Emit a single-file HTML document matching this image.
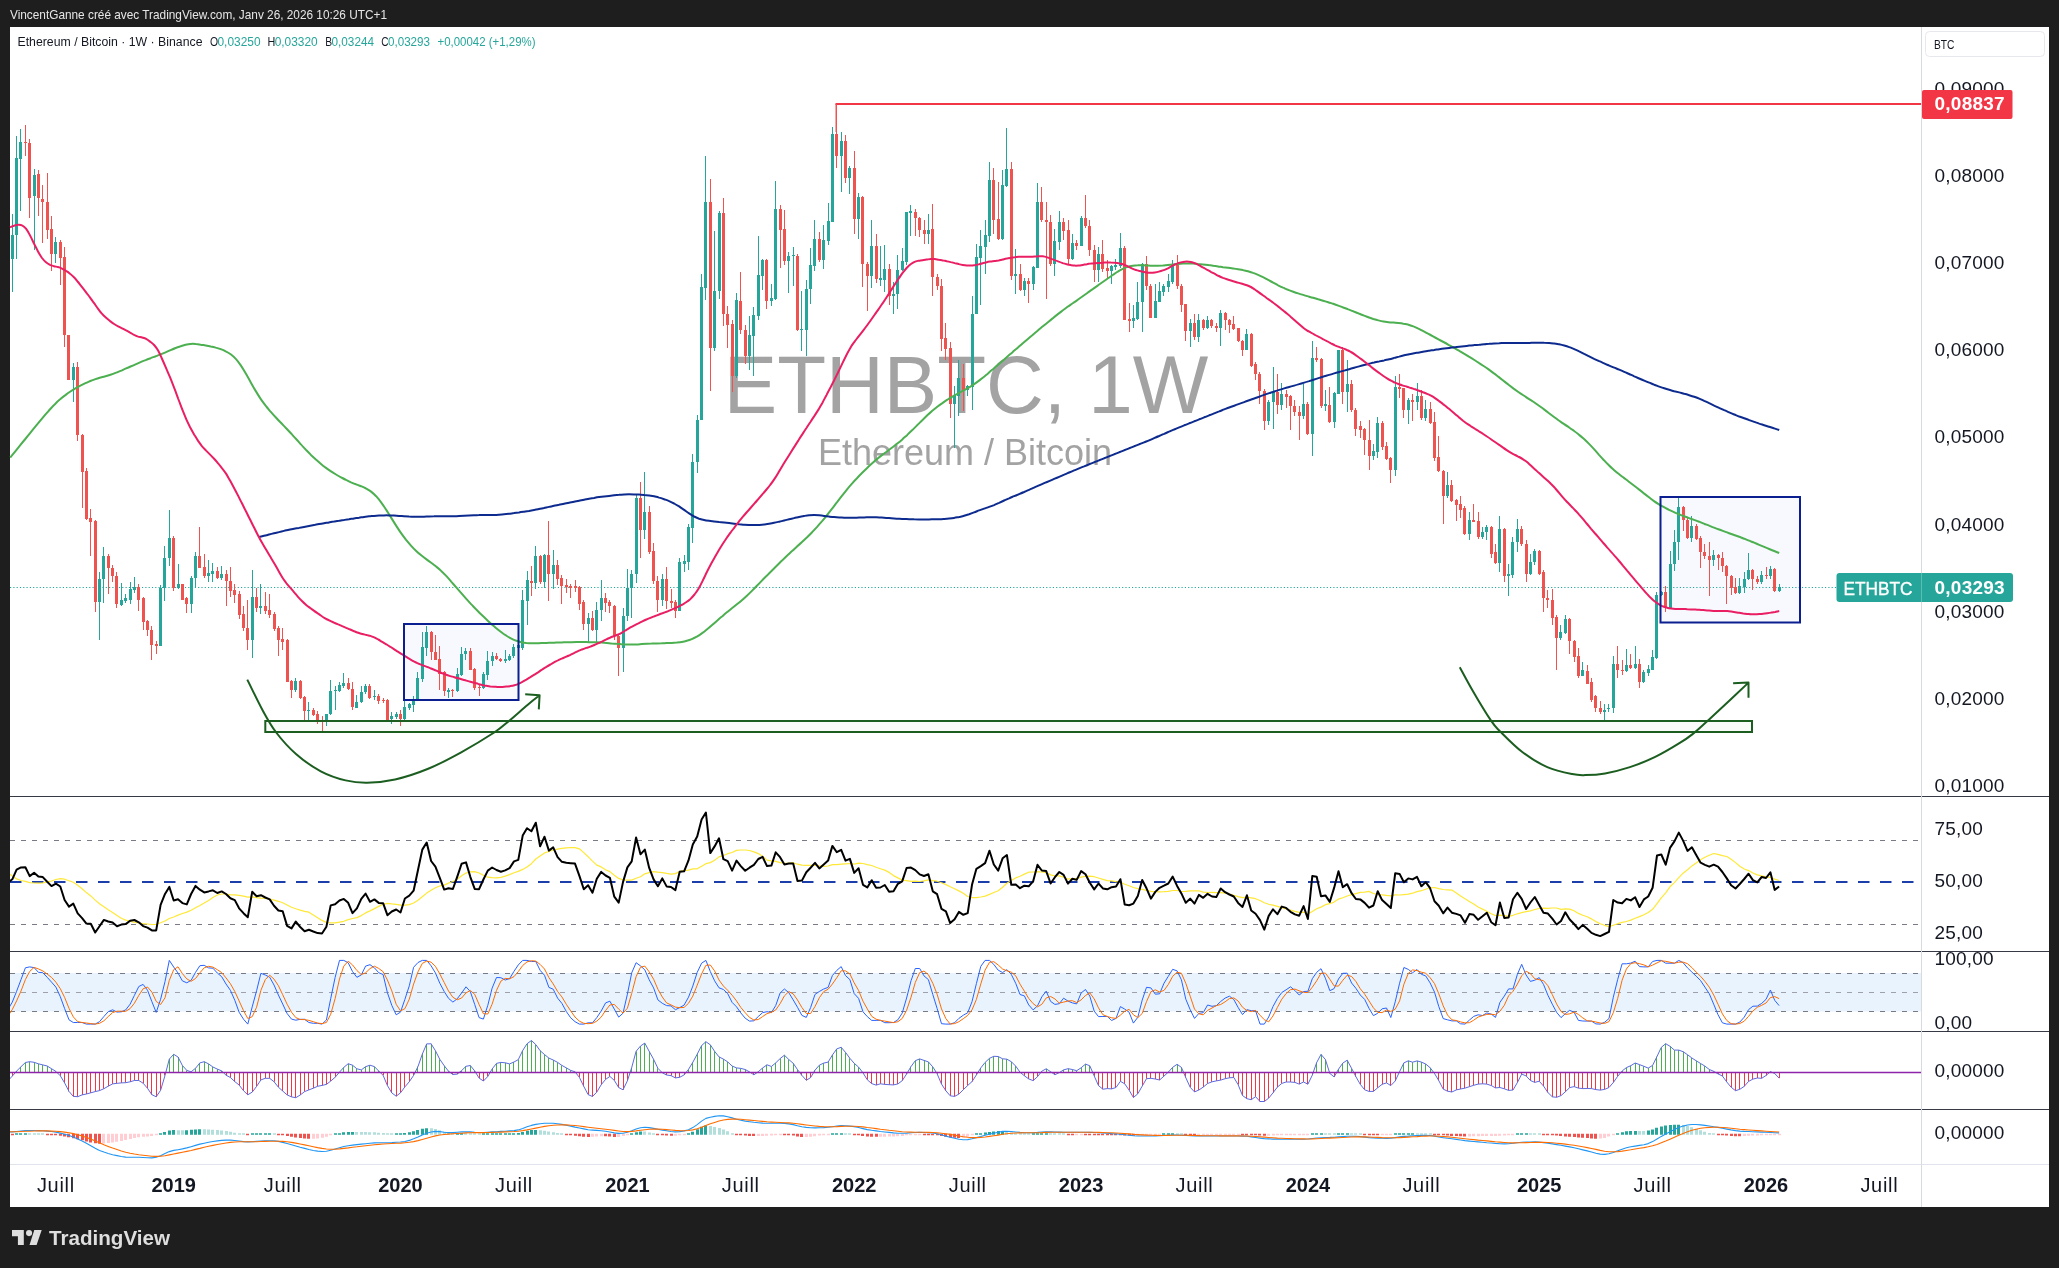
<!DOCTYPE html>
<html><head><meta charset="utf-8"><title>ETHBTC</title>
<style>
html,body{margin:0;padding:0;background:#1e1e1e;}
body{width:2059px;height:1268px;overflow:hidden;font-family:"Liberation Sans",sans-serif;}
svg{display:block;font-family:"Liberation Sans",sans-serif;will-change:transform;}
</style></head><body>
<svg width="2059" height="1268" viewBox="0 0 2059 1268">
<rect x="0" y="0" width="2059" height="1268" fill="#1e1e1e"/>
<rect x="10" y="27" width="2039" height="1180" fill="#ffffff"/>
<rect x="404" y="624" width="114.5" height="76" fill="#f8f9fe" stroke="none"/>
<rect x="1660.5" y="497" width="139.5" height="125.5" fill="#f8f9fe" stroke="none"/>
<rect x="265.3" y="721" width="1486.7" height="11" fill="#f9fbf9" stroke="none"/>
<text transform="translate(966 412.6) scale(1 1.02)" x="0" y="0" text-anchor="middle" font-size="80" fill="#a3a3a3">ETHBTC, 1W</text>
<text x="965" y="465" text-anchor="middle" font-size="36" fill="#a3a3a3">Ethereum / Bitcoin</text>
<path d="M10 587.5H1837" stroke="#26a69a" stroke-width="1" stroke-dasharray="1.2 2.1"  fill="none"/>
<path d="M12 214h1v78h-1zM11 235h3v24h-3zM16 136h1v123h-1zM15 158h3v77h-3zM20 129h1v82h-1zM19 142h3v17h-3zM34 169h1v81h-1zM33 175h3v21h-3zM55 237h1v26h-1zM54 242h3v12h-3zM73 363h1v39h-1zM72 367h3v13h-3zM99 572h1v68h-1zM98 579h3v23h-3zM103 547h1v56h-1zM102 556h3v23h-3zM121 583h1v23h-1zM120 600h3v5h-3zM125 594h1v9h-1zM124 598h3v3h-3zM130 582h1v22h-1zM129 589h3v11h-3zM134 577h1v16h-1zM133 587h3v3h-3zM160 585h1v61h-1zM159 588h3v58h-3zM164 546h1v55h-1zM163 558h3v30h-3zM169 510h1v56h-1zM168 538h3v20h-3zM178 564h1v25h-1zM177 584h3v4h-3zM191 576h1v37h-1zM190 578h3v26h-3zM195 552h1v35h-1zM194 556h3v22h-3zM208 560h1v22h-1zM207 573h3v3h-3zM212 563h1v19h-1zM211 571h3v3h-3zM221 566h1v14h-1zM220 574h3v4h-3zM252 570h1v88h-1zM251 597h3v43h-3zM260 584h1v30h-1zM259 606h3v2h-3zM295 678h1v14h-1zM294 681h3v9h-3zM308 702h1v18h-1zM307 710h3v1h-3zM326 714h1v12h-1zM325 714h3v6h-3zM330 680h1v35h-1zM329 691h3v23h-3zM335 686h1v24h-1zM334 690h3v1h-3zM339 682h1v10h-1zM338 685h3v6h-3zM343 673h1v15h-1zM342 683h3v3h-3zM356 695h1v13h-1zM355 702h3v6h-3zM361 686h1v17h-1zM360 692h3v10h-3zM365 684h1v10h-1zM364 686h3v6h-3zM374 690h1v10h-1zM373 696h3v1h-3zM391 712h1v12h-1zM390 716h3v3h-3zM396 712h1v7h-1zM395 714h3v3h-3zM404 700h1v22h-1zM403 707h3v12h-3zM409 703h1v7h-1zM408 704h3v4h-3zM413 696h1v16h-1zM412 700h3v5h-3zM417 672h1v28h-1zM416 678h3v21h-3zM422 632h1v50h-1zM421 647h3v32h-3zM426 626h1v30h-1zM425 632h3v16h-3zM448 688h1v10h-1zM447 690h3v2h-3zM457 668h1v24h-1zM456 674h3v17h-3zM461 647h1v29h-1zM460 654h3v21h-3zM465 648h1v12h-1zM464 651h3v3h-3zM483 672h1v17h-1zM482 674h3v14h-3zM487 651h1v29h-1zM486 661h3v14h-3zM492 652h1v14h-1zM491 656h3v5h-3zM505 650h1v13h-1zM504 659h3v2h-3zM509 654h1v7h-1zM508 656h3v4h-3zM513 644h1v14h-1zM512 647h3v9h-3zM518 644h1v5h-1zM517 645h3v3h-3zM522 590h1v60h-1zM521 600h3v48h-3zM527 571h1v54h-1zM526 580h3v21h-3zM535 546h1v43h-1zM534 556h3v27h-3zM544 554h1v34h-1zM543 555h3v27h-3zM553 550h1v39h-1zM552 565h3v9h-3zM588 613h1v29h-1zM587 618h3v6h-3zM596 602h1v42h-1zM595 610h3v20h-3zM601 580h1v41h-1zM600 598h3v12h-3zM623 608h1v64h-1zM622 616h3v32h-3zM627 569h1v52h-1zM626 588h3v28h-3zM631 570h1v48h-1zM630 574h3v14h-3zM636 495h1v88h-1zM635 498h3v76h-3zM644 472h1v67h-1zM643 512h3v18h-3zM662 574h1v32h-1zM661 579h3v21h-3zM679 558h1v53h-1zM678 562h3v49h-3zM684 555h1v17h-1zM683 561h3v3h-3zM688 524h1v46h-1zM687 527h3v35h-3zM692 454h1v89h-1zM691 462h3v66h-3zM697 415h1v58h-1zM696 420h3v42h-3zM701 274h1v146h-1zM700 287h3v133h-3zM705 156h1v144h-1zM704 202h3v86h-3zM714 231h1v120h-1zM713 291h3v57h-3zM719 211h1v88h-1zM718 213h3v78h-3zM736 293h1v85h-1zM735 300h3v76h-3zM749 316h1v54h-1zM748 335h3v21h-3zM753 307h1v69h-1zM752 315h3v21h-3zM758 236h1v84h-1zM757 275h3v41h-3zM762 259h1v31h-1zM761 260h3v16h-3zM771 284h1v22h-1zM770 298h3v3h-3zM775 181h1v119h-1zM774 209h3v90h-3zM788 252h1v41h-1zM787 256h3v5h-3zM793 247h1v39h-1zM792 255h3v1h-3zM801 291h1v60h-1zM800 329h3v1h-3zM806 280h1v76h-1zM805 289h3v41h-3zM810 248h1v56h-1zM809 265h3v24h-3zM814 220h1v51h-1zM813 239h3v27h-3zM823 225h1v44h-1zM822 240h3v20h-3zM828 203h1v42h-1zM827 221h3v20h-3zM832 127h1v95h-1zM831 134h3v88h-3zM841 132h1v60h-1zM840 141h3v15h-3zM849 166h1v28h-1zM848 168h3v10h-3zM858 193h1v46h-1zM857 197h3v22h-3zM871 220h1v68h-1zM870 246h3v30h-3zM880 246h1v40h-1zM879 278h3v2h-3zM884 245h1v47h-1zM883 269h3v11h-3zM893 282h1v32h-1zM892 294h3v2h-3zM897 255h1v54h-1zM896 270h3v24h-3zM902 248h1v23h-1zM901 261h3v9h-3zM906 212h1v53h-1zM905 212h3v50h-3zM910 205h1v31h-1zM909 211h3v2h-3zM928 214h1v30h-1zM927 230h3v4h-3zM954 386h1v62h-1zM953 395h3v9h-3zM958 360h1v56h-1zM957 378h3v18h-3zM967 385h1v11h-1zM966 386h3v4h-3zM972 296h1v114h-1zM971 314h3v73h-3zM976 244h1v70h-1zM975 257h3v57h-3zM980 230h1v75h-1zM979 246h3v12h-3zM985 220h1v54h-1zM984 235h3v12h-3zM989 162h1v80h-1zM988 180h3v56h-3zM1002 170h1v70h-1zM1001 185h3v54h-3zM1006 128h1v59h-1zM1005 169h3v17h-3zM1015 249h1v45h-1zM1014 274h3v2h-3zM1024 278h1v18h-1zM1023 281h3v9h-3zM1033 266h1v24h-1zM1032 267h3v17h-3zM1037 183h1v85h-1zM1036 202h3v66h-3zM1054 229h1v47h-1zM1053 241h3v23h-3zM1059 211h1v39h-1zM1058 222h3v20h-3zM1072 234h1v26h-1zM1071 243h3v16h-3zM1081 216h1v30h-1zM1080 218h3v28h-3zM1098 247h1v35h-1zM1097 254h3v16h-3zM1111 265h1v19h-1zM1110 266h3v5h-3zM1115 259h1v11h-1zM1114 265h3v2h-3zM1120 233h1v35h-1zM1119 248h3v18h-3zM1133 305h1v23h-1zM1132 318h3v3h-3zM1137 282h1v38h-1zM1136 302h3v17h-3zM1142 263h1v69h-1zM1141 264h3v38h-3zM1155 284h1v34h-1zM1154 301h3v17h-3zM1159 282h1v20h-1zM1158 291h3v11h-3zM1163 284h1v12h-1zM1162 286h3v6h-3zM1168 274h1v18h-1zM1167 281h3v6h-3zM1172 260h1v24h-1zM1171 265h3v17h-3zM1190 319h1v28h-1zM1189 323h3v8h-3zM1198 314h1v28h-1zM1197 320h3v17h-3zM1207 316h1v13h-1zM1206 320h3v8h-3zM1220 310h1v36h-1zM1219 313h3v15h-3zM1246 329h1v21h-1zM1245 334h3v16h-3zM1268 400h1v25h-1zM1267 402h3v19h-3zM1273 367h1v62h-1zM1272 392h3v10h-3zM1281 383h1v27h-1zM1280 394h3v11h-3zM1303 384h1v35h-1zM1302 404h3v12h-3zM1312 341h1v115h-1zM1311 358h3v76h-3zM1325 390h1v21h-1zM1324 404h3v2h-3zM1334 392h1v36h-1zM1333 393h3v29h-3zM1338 350h1v44h-1zM1337 350h3v44h-3zM1347 360h1v52h-1zM1346 384h3v8h-3zM1373 444h1v16h-1zM1372 451h3v5h-3zM1377 417h1v41h-1zM1376 423h3v29h-3zM1395 376h1v100h-1zM1394 387h3v83h-3zM1408 398h1v26h-1zM1407 400h3v10h-3zM1417 383h1v27h-1zM1416 396h3v6h-3zM1425 400h1v21h-1zM1424 409h3v9h-3zM1447 472h1v26h-1zM1446 485h3v11h-3zM1469 512h1v28h-1zM1468 520h3v14h-3zM1482 527h1v12h-1zM1481 532h3v5h-3zM1486 525h1v15h-1zM1485 527h3v5h-3zM1499 516h1v56h-1zM1498 529h3v34h-3zM1508 564h1v32h-1zM1507 574h3v2h-3zM1512 537h1v41h-1zM1511 542h3v33h-3zM1517 519h1v33h-1zM1516 529h3v13h-3zM1530 554h1v21h-1zM1529 562h3v12h-3zM1534 549h1v16h-1zM1533 551h3v11h-3zM1560 625h1v15h-1zM1559 632h3v6h-3zM1565 615h1v19h-1zM1564 619h3v14h-3zM1582 662h1v14h-1zM1581 670h3v6h-3zM1604 704h1v16h-1zM1603 710h3v2h-3zM1608 704h1v8h-1zM1607 708h3v1h-3zM1613 656h1v57h-1zM1612 664h3v44h-3zM1626 649h1v23h-1zM1625 665h3v6h-3zM1635 646h1v23h-1zM1634 664h3v4h-3zM1643 670h1v13h-1zM1642 672h3v10h-3zM1648 665h1v11h-1zM1647 669h3v4h-3zM1652 650h1v20h-1zM1651 657h3v13h-3zM1656 592h1v67h-1zM1655 595h3v63h-3zM1661 591h1v5h-1zM1660 592h3v3h-3zM1670 551h1v57h-1zM1669 564h3v44h-3zM1674 530h1v41h-1zM1673 542h3v22h-3zM1678 498h1v62h-1zM1677 507h3v35h-3zM1691 516h1v26h-1zM1690 526h3v12h-3zM1713 550h1v16h-1zM1712 555h3v5h-3zM1739 578h1v16h-1zM1738 586h3v7h-3zM1744 572h1v21h-1zM1743 579h3v8h-3zM1748 553h1v27h-1zM1747 570h3v9h-3zM1761 571h1v13h-1zM1760 575h3v7h-3zM1770 566h1v13h-1zM1769 569h3v7h-3zM1779 584h1v8h-1zM1778 587h3v4h-3z" fill="#26a69a"/>
<path d="M25 125h1v31h-1zM24 142h3v1h-3zM29 139h1v79h-1zM28 143h3v55h-3zM38 170h1v46h-1zM37 174h3v24h-3zM42 185h1v58h-1zM41 199h3v3h-3zM47 173h1v66h-1zM46 202h3v28h-3zM51 216h1v55h-1zM50 229h3v25h-3zM60 240h1v45h-1zM59 242h3v16h-3zM64 247h1v100h-1zM63 257h3v78h-3zM68 335h1v45h-1zM67 335h3v45h-3zM77 362h1v79h-1zM76 367h3v68h-3zM82 434h1v74h-1zM81 435h3v37h-3zM86 468h1v52h-1zM85 471h3v48h-3zM90 509h1v47h-1zM89 518h3v4h-3zM95 520h1v92h-1zM94 521h3v81h-3zM108 554h1v40h-1zM107 556h3v12h-3zM112 565h1v17h-1zM111 568h3v8h-3zM116 572h1v36h-1zM115 576h3v28h-3zM138 584h1v27h-1zM137 587h3v13h-3zM143 597h1v33h-1zM142 598h3v24h-3zM147 620h1v16h-1zM146 621h3v9h-3zM151 626h1v34h-1zM150 630h3v15h-3zM156 641h1v13h-1zM155 644h3v2h-3zM173 536h1v55h-1zM172 538h3v50h-3zM182 584h1v16h-1zM181 584h3v16h-3zM186 597h1v16h-1zM185 598h3v6h-3zM199 527h1v41h-1zM198 556h3v12h-3zM204 554h1v24h-1zM203 567h3v9h-3zM217 567h1v12h-1zM216 571h3v7h-3zM226 570h1v36h-1zM225 574h3v7h-3zM230 567h1v30h-1zM229 581h3v10h-3zM234 584h1v19h-1zM233 590h3v5h-3zM239 591h1v28h-1zM238 594h3v21h-3zM243 606h1v25h-1zM242 614h3v14h-3zM247 600h1v50h-1zM246 628h3v12h-3zM256 588h1v24h-1zM255 597h3v11h-3zM265 592h1v22h-1zM264 606h3v5h-3zM269 594h1v24h-1zM268 610h3v5h-3zM274 612h1v19h-1zM273 614h3v15h-3zM278 626h1v30h-1zM277 628h3v12h-3zM282 628h1v22h-1zM281 639h3v3h-3zM287 639h1v43h-1zM286 640h3v42h-3zM291 680h1v18h-1zM290 681h3v9h-3zM300 680h1v19h-1zM299 681h3v17h-3zM304 696h1v24h-1zM303 697h3v14h-3zM313 708h1v8h-1zM312 710h3v5h-3zM317 711h1v13h-1zM316 714h3v6h-3zM322 716h1v15h-1zM321 720h3v1h-3zM348 678h1v12h-1zM347 683h3v6h-3zM352 682h1v28h-1zM351 689h3v18h-3zM369 684h1v15h-1zM368 686h3v12h-3zM378 694h1v10h-1zM377 696h3v5h-3zM383 698h1v5h-1zM382 700h3v1h-3zM387 699h1v21h-1zM386 700h3v20h-3zM400 710h1v16h-1zM399 714h3v5h-3zM431 631h1v29h-1zM430 632h3v20h-3zM435 635h1v25h-1zM434 652h3v8h-3zM439 646h1v44h-1zM438 659h3v15h-3zM444 671h1v25h-1zM443 672h3v19h-3zM452 689h1v8h-1zM451 690h3v1h-3zM470 648h1v22h-1zM469 651h3v19h-3zM474 668h1v22h-1zM473 669h3v19h-3zM479 685h1v11h-1zM478 687h3v1h-3zM496 653h1v7h-1zM495 656h3v3h-3zM500 658h1v4h-1zM499 659h3v2h-3zM531 566h1v30h-1zM530 581h3v2h-3zM540 555h1v29h-1zM539 556h3v26h-3zM548 521h1v80h-1zM547 555h3v19h-3zM557 560h1v25h-1zM556 565h3v14h-3zM561 575h1v29h-1zM560 578h3v8h-3zM566 579h1v14h-1zM565 585h3v2h-3zM570 584h1v14h-1zM569 586h3v2h-3zM575 580h1v12h-1zM574 586h3v2h-3zM579 586h1v24h-1zM578 587h3v17h-3zM583 600h1v30h-1zM582 602h3v22h-3zM592 611h1v20h-1zM591 618h3v12h-3zM605 593h1v19h-1zM604 598h3v5h-3zM609 600h1v13h-1zM608 602h3v4h-3zM614 605h1v35h-1zM613 606h3v30h-3zM618 635h1v41h-1zM617 636h3v12h-3zM640 482h1v76h-1zM639 498h3v32h-3zM649 506h1v48h-1zM648 512h3v40h-3zM653 543h1v41h-1zM652 551h3v30h-3zM657 576h1v36h-1zM656 581h3v19h-3zM666 567h1v42h-1zM665 579h3v22h-3zM671 589h1v19h-1zM670 601h3v2h-3zM675 600h1v18h-1zM674 602h3v9h-3zM710 179h1v212h-1zM709 202h3v146h-3zM723 198h1v128h-1zM722 213h3v101h-3zM727 306h1v42h-1zM726 314h3v11h-3zM732 320h1v72h-1zM731 324h3v52h-3zM740 272h1v62h-1zM739 301h3v29h-3zM745 325h1v39h-1zM744 330h3v26h-3zM766 259h1v50h-1zM765 260h3v41h-3zM780 205h1v63h-1zM779 209h3v21h-3zM784 210h1v55h-1zM783 229h3v32h-3zM797 254h1v77h-1zM796 256h3v74h-3zM819 232h1v30h-1zM818 239h3v21h-3zM836 104h1v64h-1zM835 134h3v22h-3zM845 135h1v48h-1zM844 141h3v37h-3zM854 151h1v83h-1zM853 168h3v51h-3zM862 196h1v91h-1zM861 197h3v67h-3zM867 262h1v49h-1zM866 264h3v12h-3zM876 234h1v49h-1zM875 246h3v33h-3zM889 264h1v41h-1zM888 269h3v27h-3zM915 209h1v27h-1zM914 212h3v6h-3zM919 217h1v20h-1zM918 218h3v12h-3zM924 220h1v24h-1zM923 230h3v4h-3zM932 204h1v92h-1zM931 229h3v48h-3zM937 274h1v16h-1zM936 277h3v9h-3zM941 279h1v72h-1zM940 286h3v53h-3zM945 323h1v37h-1zM944 338h3v11h-3zM950 342h1v76h-1zM949 348h3v56h-3zM963 364h1v47h-1zM962 378h3v12h-3zM993 168h1v66h-1zM992 180h3v40h-3zM998 182h1v58h-1zM997 219h3v20h-3zM1011 162h1v118h-1zM1010 169h3v107h-3zM1020 264h1v27h-1zM1019 274h3v16h-3zM1028 278h1v25h-1zM1027 281h3v3h-3zM1041 187h1v35h-1zM1040 202h3v18h-3zM1046 202h1v97h-1zM1045 220h3v2h-3zM1050 215h1v51h-1zM1049 222h3v42h-3zM1063 218h1v22h-1zM1062 222h3v9h-3zM1068 220h1v44h-1zM1067 230h3v29h-3zM1076 240h1v10h-1zM1075 243h3v3h-3zM1085 195h1v33h-1zM1084 218h3v8h-3zM1089 220h1v36h-1zM1088 226h3v24h-3zM1094 245h1v37h-1zM1093 250h3v20h-3zM1102 240h1v32h-1zM1101 254h3v15h-3zM1107 260h1v18h-1zM1106 268h3v3h-3zM1124 246h1v74h-1zM1123 248h3v72h-3zM1129 303h1v29h-1zM1128 319h3v2h-3zM1146 256h1v34h-1zM1145 264h3v22h-3zM1150 284h1v34h-1zM1149 286h3v32h-3zM1177 255h1v34h-1zM1176 265h3v21h-3zM1181 284h1v28h-1zM1180 286h3v19h-3zM1185 304h1v37h-1zM1184 304h3v27h-3zM1194 314h1v26h-1zM1193 323h3v14h-3zM1203 319h1v11h-1zM1202 320h3v8h-3zM1211 319h1v9h-1zM1210 320h3v6h-3zM1216 323h1v9h-1zM1215 326h3v2h-3zM1225 312h1v18h-1zM1224 313h3v7h-3zM1229 319h1v14h-1zM1228 320h3v5h-3zM1233 316h1v14h-1zM1232 324h3v5h-3zM1238 328h1v14h-1zM1237 328h3v13h-3zM1242 340h1v16h-1zM1241 341h3v9h-3zM1251 333h1v34h-1zM1250 334h3v32h-3zM1255 362h1v18h-1zM1254 364h3v10h-3zM1259 372h1v32h-1zM1258 374h3v17h-3zM1264 389h1v41h-1zM1263 391h3v30h-3zM1277 374h1v40h-1zM1276 392h3v13h-3zM1286 390h1v18h-1zM1285 394h3v3h-3zM1290 395h1v35h-1zM1289 396h3v10h-3zM1294 400h1v16h-1zM1293 406h3v6h-3zM1299 406h1v34h-1zM1298 412h3v4h-3zM1307 402h1v33h-1zM1306 404h3v30h-3zM1316 347h1v15h-1zM1315 358h3v2h-3zM1321 358h1v50h-1zM1320 359h3v47h-3zM1329 387h1v36h-1zM1328 405h3v17h-3zM1342 347h1v57h-1zM1341 350h3v42h-3zM1351 380h1v32h-1zM1350 384h3v26h-3zM1355 408h1v28h-1zM1354 410h3v19h-3zM1360 421h1v17h-1zM1359 426h3v4h-3zM1364 428h1v27h-1zM1363 429h3v11h-3zM1369 420h1v50h-1zM1368 440h3v16h-3zM1382 421h1v29h-1zM1381 423h3v24h-3zM1386 442h1v18h-1zM1385 446h3v13h-3zM1390 457h1v26h-1zM1389 458h3v12h-3zM1399 374h1v24h-1zM1398 387h3v2h-3zM1403 388h1v30h-1zM1402 388h3v22h-3zM1412 394h1v27h-1zM1411 400h3v2h-3zM1421 390h1v30h-1zM1420 396h3v22h-3zM1430 402h1v22h-1zM1429 409h3v14h-3zM1434 412h1v49h-1zM1433 422h3v36h-3zM1438 436h1v36h-1zM1437 457h3v14h-3zM1443 470h1v54h-1zM1442 471h3v25h-3zM1451 480h1v22h-1zM1450 485h3v16h-3zM1456 499h1v22h-1zM1455 500h3v5h-3zM1460 496h1v22h-1zM1459 504h3v6h-3zM1464 506h1v29h-1zM1463 508h3v26h-3zM1473 504h1v18h-1zM1472 520h3v2h-3zM1478 512h1v27h-1zM1477 521h3v16h-3zM1491 526h1v32h-1zM1490 527h3v27h-3zM1495 544h1v20h-1zM1494 552h3v11h-3zM1504 528h1v54h-1zM1503 529h3v47h-3zM1521 526h1v20h-1zM1520 529h3v15h-3zM1526 540h1v42h-1zM1525 544h3v30h-3zM1539 550h1v25h-1zM1538 551h3v23h-3zM1543 570h1v42h-1zM1542 572h3v26h-3zM1547 590h1v18h-1zM1546 598h3v2h-3zM1552 589h1v36h-1zM1551 600h3v18h-3zM1556 615h1v55h-1zM1555 617h3v21h-3zM1569 618h1v36h-1zM1568 619h3v22h-3zM1574 640h1v22h-1zM1573 641h3v16h-3zM1578 648h1v30h-1zM1577 656h3v20h-3zM1587 665h1v19h-1zM1586 671h3v13h-3zM1591 678h1v24h-1zM1590 682h3v18h-3zM1595 695h1v17h-1zM1594 696h3v12h-3zM1600 701h1v13h-1zM1599 708h3v4h-3zM1617 646h1v32h-1zM1616 664h3v6h-3zM1622 660h1v15h-1zM1621 670h3v1h-3zM1630 654h1v15h-1zM1629 665h3v3h-3zM1639 659h1v29h-1zM1638 664h3v18h-3zM1665 586h1v26h-1zM1664 592h3v16h-3zM1683 506h1v25h-1zM1682 507h3v13h-3zM1687 518h1v21h-1zM1686 520h3v18h-3zM1696 524h1v16h-1zM1695 526h3v13h-3zM1700 536h1v32h-1zM1699 538h3v14h-3zM1704 544h1v15h-1zM1703 552h3v4h-3zM1709 542h1v54h-1zM1708 556h3v4h-3zM1718 554h1v16h-1zM1717 555h3v3h-3zM1722 552h1v20h-1zM1721 558h3v8h-3zM1726 565h1v39h-1zM1725 566h3v10h-3zM1731 575h1v20h-1zM1730 576h3v12h-3zM1735 578h1v16h-1zM1734 587h3v6h-3zM1752 569h1v21h-1zM1751 570h3v9h-3zM1757 576h1v8h-1zM1756 579h3v3h-3zM1766 567h1v12h-1zM1765 575h3v1h-3zM1774 568h1v24h-1zM1773 569h3v22h-3z" fill="#ef5350"/>
<path d="M10.2 457.5C11.1 456.5 13.6 453.4 15.3 451.3C16.9 449.3 18.6 447.2 20.3 445.1C21.9 443.1 23.6 441 25.3 439C27 436.9 28.6 434.9 30.3 432.8C32 430.8 33.6 428.8 35.3 426.7C37 424.7 38.6 422.7 40.3 420.7C42 418.7 43.7 416.7 45.3 414.7C47 412.8 48.7 410.8 50.3 409C52 407.1 53.7 405.3 55.4 403.7C57 402 58.7 400.5 60.4 399.1C62 397.6 63.7 396.3 65.4 395.1C67 393.8 68.7 392.6 70.4 391.5C72.1 390.4 73.7 389.4 75.4 388.4C77.1 387.4 78.7 386.5 80.4 385.7C82.1 384.8 83.7 384 85.4 383.2C87.1 382.4 88.8 381.7 90.4 381C92.1 380.3 93.8 379.7 95.4 379.1C97.1 378.5 98.8 378 100.5 377.5C102.1 377.1 103.8 376.7 105.5 376.2C107.1 375.8 108.8 375.3 110.5 374.7C112.1 374.2 113.8 373.6 115.5 372.9C117.2 372.3 118.8 371.6 120.5 370.9C122.2 370.2 123.8 369.4 125.5 368.7C127.2 368 128.9 367.3 130.5 366.5C132.2 365.8 133.9 365.1 135.5 364.3C137.2 363.6 138.9 362.9 140.5 362.1C142.2 361.4 143.9 360.7 145.6 360.1C147.2 359.4 148.9 358.8 150.6 358.2C152.2 357.5 153.9 357 155.6 356.3C157.2 355.7 158.9 355.1 160.6 354.4C162.3 353.7 163.9 353 165.6 352.3C167.3 351.6 168.9 350.9 170.6 350.1C172.3 349.4 174 348.7 175.6 348C177.3 347.4 179 346.7 180.6 346.2C182.3 345.6 184 345.1 185.6 344.7C187.3 344.3 189 344 190.7 343.9C192.3 343.8 194 343.8 195.7 344C197.3 344.1 199 344.4 200.7 344.7C202.4 344.9 204 345.3 205.7 345.5C207.4 345.8 209 346.1 210.7 346.5C212.4 346.8 214 347.1 215.7 347.6C217.4 348 219.1 348.5 220.7 349.1C222.4 349.7 224.1 350.4 225.7 351.3C227.4 352.1 229.1 353.1 230.7 354.3C232.4 355.6 234.1 357.1 235.8 358.9C237.4 360.7 239.1 362.9 240.8 365.4C242.4 367.8 244.1 370.6 245.8 373.5C247.5 376.3 249.1 379.4 250.8 382.4C252.5 385.3 254.1 388.4 255.8 391.1C257.5 393.9 259.1 396.6 260.8 399.1C262.5 401.5 264.2 403.8 265.8 405.9C267.5 408.1 269.2 410 270.8 411.9C272.5 413.9 274.2 415.7 275.9 417.5C277.5 419.3 279.2 421.1 280.9 422.8C282.5 424.5 284.2 426.2 285.9 428C287.5 429.7 289.2 431.5 290.9 433.3C292.6 435.1 294.2 437 295.9 438.8C297.6 440.6 299.2 442.5 300.9 444.4C302.6 446.2 304.2 448 305.9 449.8C307.6 451.5 309.3 453.2 310.9 454.9C312.6 456.5 314.3 458.1 315.9 459.6C317.6 461.1 319.3 462.6 321 464C322.6 465.4 324.3 466.7 326 467.9C327.6 469.2 329.3 470.3 331 471.4C332.6 472.5 334.3 473.5 336 474.5C337.7 475.5 339.3 476.4 341 477.3C342.7 478.2 344.3 479.1 346 479.9C347.7 480.7 349.4 481.5 351 482.3C352.7 483 354.4 483.7 356 484.3C357.7 485 359.4 485.6 361 486.2C362.7 486.9 364.4 487.6 366.1 488.5C367.7 489.4 369.4 490.3 371.1 491.6C372.7 492.9 374.4 494.4 376.1 496.2C377.7 498 379.4 500 381.1 502.3C382.8 504.5 384.4 507.1 386.1 509.6C387.8 512.2 389.4 514.9 391.1 517.6C392.8 520.3 394.5 523 396.1 525.6C397.8 528.2 399.5 530.8 401.1 533.1C402.8 535.5 404.5 537.8 406.1 539.9C407.8 542 409.5 543.9 411.2 545.8C412.8 547.6 414.5 549.3 416.2 550.9C417.8 552.4 419.5 553.9 421.2 555.3C422.8 556.6 424.5 557.9 426.2 559.1C427.9 560.4 429.5 561.6 431.2 562.8C432.9 564 434.5 565.2 436.2 566.6C437.9 567.9 439.6 569.3 441.2 570.9C442.9 572.4 444.6 574.2 446.2 575.9C447.9 577.7 449.6 579.7 451.2 581.6C452.9 583.5 454.6 585.5 456.3 587.4C457.9 589.3 459.6 591.3 461.3 593.2C462.9 595.1 464.6 597 466.3 598.9C468 600.8 469.6 602.6 471.3 604.4C473 606.1 474.6 607.9 476.3 609.5C478 611.2 479.6 612.9 481.3 614.5C483 616.1 484.7 617.7 486.3 619.3C488 620.9 489.7 622.4 491.3 624C493 625.5 494.7 626.9 496.3 628.3C498 629.7 499.7 631 501.4 632.3C503 633.5 504.7 634.7 506.4 635.7C508 636.8 509.7 637.8 511.4 638.6C513.1 639.5 514.7 640.2 516.4 640.8C518.1 641.4 519.7 641.9 521.4 642.2C523.1 642.6 524.7 642.8 526.4 643C528.1 643.1 529.8 643.2 531.4 643.2C533.1 643.3 534.8 643.2 536.4 643.2C538.1 643.2 539.8 643.1 541.5 643C543.1 643 544.8 643 546.5 642.9C548.1 642.9 549.8 642.8 551.5 642.8C553.1 642.7 554.8 642.7 556.5 642.6C558.2 642.5 559.8 642.5 561.5 642.4C563.2 642.4 564.8 642.3 566.5 642.3C568.2 642.2 569.8 642.2 571.5 642.2C573.2 642.1 574.9 642.1 576.5 642.1C578.2 642.1 579.9 642.1 581.5 642.1C583.2 642.1 584.9 642.1 586.6 642.1C588.2 642.1 589.9 642.2 591.6 642.2C593.2 642.2 594.9 642.3 596.6 642.3C598.2 642.4 599.9 642.5 601.6 642.6C603.3 642.7 604.9 642.8 606.6 642.9C608.3 643.1 609.9 643.2 611.6 643.4C613.3 643.5 615 643.6 616.6 643.8C618.3 643.9 620 644.1 621.6 644.2C623.3 644.3 625 644.4 626.6 644.5C628.3 644.5 630 644.6 631.7 644.6C633.3 644.6 635 644.5 636.7 644.4C638.3 644.4 640 644.2 641.7 644.1C643.3 644 645 643.9 646.7 643.8C648.4 643.7 650 643.6 651.7 643.6C653.4 643.5 655 643.4 656.7 643.4C658.4 643.3 660.1 643.3 661.7 643.3C663.4 643.2 665.1 643.2 666.7 643.1C668.4 643.1 670.1 643 671.7 642.9C673.4 642.8 675.1 642.7 676.8 642.6C678.4 642.4 680.1 642.2 681.8 641.9C683.4 641.6 685.1 641.2 686.8 640.7C688.5 640.3 690.1 639.8 691.8 639.1C693.5 638.4 695.1 637.6 696.8 636.7C698.5 635.7 700.1 634.6 701.8 633.4C703.5 632.2 705.2 630.9 706.8 629.5C708.5 628.2 710.2 626.8 711.8 625.3C713.5 623.9 715.2 622.4 716.8 621C718.5 619.5 720.2 618 721.9 616.6C723.5 615.2 725.2 613.7 726.9 612.3C728.5 611 730.2 609.6 731.9 608.3C733.6 607 735.2 605.7 736.9 604.3C738.6 603 740.2 601.7 741.9 600.2C743.6 598.8 745.2 597.3 746.9 595.7C748.6 594.2 750.3 592.5 751.9 590.9C753.6 589.2 755.3 587.5 756.9 585.8C758.6 584.1 760.3 582.3 761.9 580.6C763.6 578.9 765.3 577.2 767 575.6C768.6 573.9 770.3 572.2 772 570.5C773.6 568.9 775.3 567.2 777 565.5C778.7 563.9 780.3 562.2 782 560.6C783.7 558.9 785.3 557.3 787 555.7C788.7 554.2 790.3 552.6 792 551.1C793.7 549.5 795.4 548 797 546.5C798.7 545 800.4 543.5 802 542C803.7 540.5 805.4 538.9 807.1 537.3C808.7 535.7 810.4 534 812.1 532.2C813.7 530.5 815.4 528.7 817.1 526.8C818.7 524.9 820.4 523 822.1 521.1C823.8 519.1 825.4 517.1 827.1 515C828.8 513 830.4 510.9 832.1 508.7C833.8 506.6 835.4 504.3 837.1 502.2C838.8 500 840.5 497.7 842.1 495.6C843.8 493.4 845.5 491.3 847.1 489.3C848.8 487.2 850.5 485.3 852.2 483.4C853.8 481.5 855.5 479.7 857.2 478C858.8 476.2 860.5 474.5 862.2 472.8C863.8 471.2 865.5 469.5 867.2 467.9C868.9 466.3 870.5 464.7 872.2 463.2C873.9 461.7 875.5 460.2 877.2 458.9C878.9 457.5 880.6 456.2 882.2 454.9C883.9 453.6 885.6 452.4 887.2 451.2C888.9 450 890.6 448.8 892.2 447.5C893.9 446.2 895.6 445 897.3 443.6C898.9 442.3 900.6 440.9 902.3 439.4C903.9 438 905.6 436.4 907.3 434.9C908.9 433.3 910.6 431.7 912.3 430.1C914 428.4 915.6 426.8 917.3 425.1C919 423.5 920.6 421.8 922.3 420.2C924 418.6 925.7 416.9 927.3 415.3C929 413.8 930.7 412.3 932.3 410.8C934 409.4 935.7 408 937.3 406.7C939 405.4 940.7 404.2 942.4 403.1C944 401.9 945.7 400.8 947.4 399.7C949 398.6 950.7 397.6 952.4 396.6C954.1 395.6 955.7 394.7 957.4 393.8C959.1 392.9 960.7 392 962.4 391.1C964.1 390.3 965.7 389.4 967.4 388.4C969.1 387.5 970.8 386.5 972.4 385.4C974.1 384.3 975.8 383.1 977.4 381.9C979.1 380.6 980.8 379.3 982.4 378C984.1 376.6 985.8 375.3 987.5 373.9C989.1 372.5 990.8 371 992.5 369.6C994.1 368.2 995.8 366.7 997.5 365.3C999.2 363.8 1000.8 362.4 1002.5 360.9C1004.2 359.4 1005.8 358 1007.5 356.5C1009.2 355.1 1010.8 353.6 1012.5 352.2C1014.2 350.7 1015.9 349.3 1017.5 347.9C1019.2 346.4 1020.9 345 1022.5 343.5C1024.2 342.1 1025.9 340.7 1027.6 339.2C1029.2 337.8 1030.9 336.4 1032.6 335C1034.2 333.5 1035.9 332.1 1037.6 330.7C1039.2 329.3 1040.9 328 1042.6 326.6C1044.3 325.2 1045.9 323.8 1047.6 322.5C1049.3 321.1 1050.9 319.7 1052.6 318.4C1054.3 317 1055.9 315.7 1057.6 314.4C1059.3 313.1 1061 311.8 1062.6 310.5C1064.3 309.3 1066 308 1067.6 306.8C1069.3 305.6 1071 304.5 1072.7 303.3C1074.3 302.1 1076 300.9 1077.7 299.8C1079.3 298.6 1081 297.4 1082.7 296.2C1084.3 295.1 1086 293.9 1087.7 292.7C1089.4 291.5 1091 290.3 1092.7 289.2C1094.4 288 1096 286.8 1097.7 285.6C1099.4 284.4 1101 283.2 1102.7 282C1104.4 280.8 1106.1 279.6 1107.7 278.5C1109.4 277.3 1111.1 276.1 1112.7 275C1114.4 273.9 1116.1 272.7 1117.8 271.7C1119.4 270.7 1121.1 269.8 1122.8 268.9C1124.4 268.1 1126.1 267.4 1127.8 266.9C1129.4 266.3 1131.1 266 1132.8 265.7C1134.5 265.4 1136.1 265.3 1137.8 265.3C1139.5 265.2 1141.1 265.3 1142.8 265.3C1144.5 265.4 1146.2 265.5 1147.8 265.6C1149.5 265.7 1151.2 265.8 1152.8 265.8C1154.5 265.8 1156.2 265.8 1157.8 265.8C1159.5 265.7 1161.2 265.6 1162.9 265.5C1164.5 265.3 1166.2 265.2 1167.9 265C1169.5 264.8 1171.2 264.6 1172.9 264.4C1174.5 264.3 1176.2 264.1 1177.9 263.9C1179.6 263.8 1181.2 263.7 1182.9 263.6C1184.6 263.5 1186.2 263.4 1187.9 263.4C1189.6 263.4 1191.3 263.4 1192.9 263.5C1194.6 263.6 1196.3 263.7 1197.9 263.9C1199.6 264 1201.3 264.2 1202.9 264.4C1204.6 264.6 1206.3 264.8 1208 265C1209.6 265.2 1211.3 265.5 1213 265.7C1214.6 265.9 1216.3 266.2 1218 266.4C1219.7 266.7 1221.3 266.9 1223 267.2C1224.7 267.4 1226.3 267.6 1228 267.8C1229.7 268.1 1231.3 268.3 1233 268.5C1234.7 268.7 1236.4 268.9 1238 269.2C1239.7 269.5 1241.4 269.8 1243 270.1C1244.7 270.5 1246.4 270.8 1248 271.3C1249.7 271.8 1251.4 272.3 1253.1 272.9C1254.7 273.4 1256.4 274.1 1258.1 274.8C1259.7 275.5 1261.4 276.3 1263.1 277.2C1264.8 278 1266.4 279 1268.1 279.9C1269.8 280.8 1271.4 281.7 1273.1 282.6C1274.8 283.5 1276.4 284.4 1278.1 285.3C1279.8 286.1 1281.5 286.9 1283.1 287.7C1284.8 288.4 1286.5 289.2 1288.1 289.8C1289.8 290.5 1291.5 291.1 1293.2 291.7C1294.8 292.3 1296.5 292.9 1298.2 293.4C1299.8 293.9 1301.5 294.4 1303.2 294.9C1304.8 295.4 1306.5 295.9 1308.2 296.4C1309.9 296.9 1311.5 297.4 1313.2 297.8C1314.9 298.3 1316.5 298.8 1318.2 299.3C1319.9 299.7 1321.5 300.2 1323.2 300.7C1324.9 301.2 1326.6 301.7 1328.2 302.2C1329.9 302.7 1331.6 303.3 1333.2 303.8C1334.9 304.4 1336.6 305 1338.3 305.6C1339.9 306.2 1341.6 306.8 1343.3 307.5C1344.9 308.1 1346.6 308.7 1348.3 309.4C1349.9 310 1351.6 310.7 1353.3 311.3C1355 312 1356.6 312.7 1358.3 313.3C1360 314 1361.6 314.7 1363.3 315.3C1365 316 1366.7 316.6 1368.3 317.2C1370 317.8 1371.7 318.4 1373.3 319C1375 319.5 1376.7 320 1378.3 320.4C1380 320.8 1381.7 321.2 1383.4 321.5C1385 321.8 1386.7 322 1388.4 322.2C1390 322.4 1391.7 322.5 1393.4 322.6C1395 322.8 1396.7 322.9 1398.4 323C1400.1 323.2 1401.7 323.4 1403.4 323.7C1405.1 323.9 1406.7 324.3 1408.4 324.7C1410.1 325.2 1411.8 325.7 1413.4 326.4C1415.1 327 1416.8 327.8 1418.4 328.6C1420.1 329.4 1421.8 330.3 1423.4 331.2C1425.1 332.1 1426.8 333 1428.5 333.9C1430.1 334.8 1431.8 335.7 1433.5 336.6C1435.1 337.5 1436.8 338.4 1438.5 339.3C1440.1 340.2 1441.8 341.1 1443.5 342C1445.2 342.9 1446.8 343.8 1448.5 344.8C1450.2 345.7 1451.8 346.6 1453.5 347.6C1455.2 348.5 1456.9 349.5 1458.5 350.4C1460.2 351.4 1461.9 352.3 1463.5 353.3C1465.2 354.3 1466.9 355.3 1468.5 356.4C1470.2 357.4 1471.9 358.4 1473.6 359.5C1475.2 360.6 1476.9 361.6 1478.6 362.7C1480.2 363.8 1481.9 364.9 1483.6 366C1485.3 367.1 1486.9 368.2 1488.6 369.4C1490.3 370.6 1491.9 371.8 1493.6 373.1C1495.3 374.3 1496.9 375.6 1498.6 376.9C1500.3 378.2 1502 379.6 1503.6 380.9C1505.3 382.2 1507 383.5 1508.6 384.8C1510.3 386.1 1512 387.4 1513.6 388.6C1515.3 389.8 1517 391 1518.7 392.2C1520.3 393.3 1522 394.4 1523.7 395.5C1525.3 396.6 1527 397.7 1528.7 398.8C1530.4 399.9 1532 400.9 1533.7 402C1535.4 403.2 1537 404.3 1538.7 405.5C1540.4 406.7 1542 407.9 1543.7 409.1C1545.4 410.4 1547.1 411.7 1548.7 413C1550.4 414.3 1552.1 415.6 1553.7 416.8C1555.4 418.1 1557.1 419.3 1558.8 420.5C1560.4 421.6 1562.1 422.7 1563.8 423.9C1565.4 425 1567.1 426.1 1568.8 427.2C1570.4 428.3 1572.1 429.5 1573.8 430.7C1575.5 431.9 1577.1 433.2 1578.8 434.6C1580.5 435.9 1582.1 437.3 1583.8 438.8C1585.5 440.4 1587.1 441.9 1588.8 443.6C1590.5 445.3 1592.2 447.1 1593.8 448.9C1595.5 450.8 1597.2 452.7 1598.8 454.6C1600.5 456.5 1602.2 458.4 1603.9 460.2C1605.5 462 1607.2 463.7 1608.9 465.3C1610.5 467 1612.2 468.4 1613.9 469.9C1615.5 471.3 1617.2 472.7 1618.9 474C1620.6 475.4 1622.2 476.6 1623.9 477.9C1625.6 479.2 1627.2 480.5 1628.9 481.7C1630.6 483 1632.3 484.3 1633.9 485.5C1635.6 486.8 1637.3 488.1 1638.9 489.4C1640.6 490.7 1642.3 492 1643.9 493.4C1645.6 494.7 1647.3 496 1649 497.3C1650.6 498.6 1652.3 499.9 1654 501.1C1655.6 502.2 1657.3 503.3 1659 504.4C1660.6 505.4 1662.3 506.3 1664 507.2C1665.7 508.1 1667.3 509 1669 509.8C1670.7 510.6 1672.3 511.4 1674 512.1C1675.7 512.9 1677.4 513.6 1679 514.3C1680.7 515 1682.4 515.6 1684 516.3C1685.7 516.9 1687.4 517.5 1689 518.1C1690.7 518.7 1692.4 519.3 1694.1 519.9C1695.7 520.5 1697.4 521.1 1699.1 521.7C1700.7 522.4 1702.4 523 1704.1 523.7C1705.8 524.3 1707.4 525 1709.1 525.6C1710.8 526.3 1712.4 527 1714.1 527.6C1715.8 528.3 1717.4 528.9 1719.1 529.5C1720.8 530.2 1722.5 530.8 1724.1 531.4C1725.8 532 1727.5 532.6 1729.1 533.2C1730.8 533.8 1732.5 534.4 1734.1 535C1735.8 535.6 1737.5 536.2 1739.2 536.8C1740.8 537.4 1742.5 538.1 1744.2 538.7C1745.8 539.4 1747.5 540 1749.2 540.7C1750.9 541.4 1752.5 542 1754.2 542.7C1755.9 543.4 1757.5 544.1 1759.2 544.8C1760.9 545.5 1762.5 546.2 1764.2 546.9C1765.9 547.6 1767.6 548.3 1769.2 549C1770.9 549.7 1772.6 550.4 1774.2 551C1775.9 551.7 1778.4 552.7 1779.2 553" stroke="#4caf50" stroke-width="2" fill="none" stroke-linejoin="round"/>
<path d="M259 537C259.8 536.8 262.3 536.2 264 535.8C265.7 535.4 267.3 535 269 534.5C270.7 534.1 272.3 533.7 274 533.3C275.7 532.9 277.3 532.5 279 532.1C280.7 531.7 282.3 531.3 284 530.9C285.7 530.5 287.3 530.2 289 529.8C290.7 529.5 292.3 529.1 294 528.8C295.7 528.5 297.3 528.2 299 527.9C300.7 527.5 302.3 527.2 304 526.9C305.7 526.6 307.3 526.3 309 526C310.7 525.7 312.3 525.4 314 525.1C315.7 524.7 317.3 524.4 319 524.1C320.7 523.8 322.3 523.5 324 523.2C325.7 522.9 327.3 522.7 329 522.4C330.7 522.1 332.3 521.8 334 521.6C335.7 521.3 337.3 521 339 520.8C340.7 520.5 342.3 520.2 344 520C345.7 519.7 347.3 519.4 349 519.2C350.7 518.9 352.3 518.7 354 518.4C355.7 518.2 357.3 517.9 359 517.7C360.7 517.4 362.4 517.2 364 516.9C365.7 516.7 367.4 516.5 369 516.3C370.7 516.2 372.4 516 374 515.9C375.7 515.8 377.4 515.7 379 515.6C380.7 515.5 382.4 515.4 384 515.4C385.7 515.3 387.4 515.3 389 515.4C390.7 515.4 392.4 515.5 394 515.5C395.7 515.6 397.4 515.8 399 515.9C400.7 516 402.4 516.2 404 516.3C405.7 516.4 407.4 516.5 409 516.6C410.7 516.6 412.4 516.7 414 516.7C415.7 516.8 417.4 516.8 419 516.8C420.7 516.8 422.4 516.7 424 516.7C425.7 516.6 427.4 516.6 429 516.5C430.7 516.4 432.4 516.3 434 516.3C435.7 516.2 437.4 516.2 439 516.2C440.7 516.2 442.4 516.2 444 516.2C445.7 516.2 447.4 516.3 449 516.3C450.7 516.3 452.4 516.3 454 516.3C455.7 516.2 457.4 516.2 459 516.1C460.7 516 462.4 515.9 464 515.8C465.7 515.7 467.4 515.6 469 515.5C470.7 515.4 472.4 515.3 474 515.2C475.7 515.2 477.4 515.1 479 515.1C480.7 515 482.4 515 484 515C485.7 515 487.4 515 489 515C490.7 515 492.4 515 494 514.9C495.7 514.9 497.4 514.8 499 514.7C500.7 514.6 502.4 514.5 504 514.3C505.7 514.2 507.4 514 509 513.8C510.7 513.6 512.4 513.3 514 513.1C515.7 512.9 517.4 512.7 519 512.5C520.7 512.2 522.4 512 524 511.8C525.7 511.5 527.4 511.2 529 511C530.7 510.7 532.4 510.4 534 510.1C535.7 509.7 537.4 509.4 539 509C540.7 508.7 542.4 508.3 544 508C545.7 507.6 547.4 507.3 549 506.9C550.7 506.5 552.4 506.2 554 505.8C555.7 505.5 557.4 505.1 559 504.8C560.7 504.4 562.4 504.1 564.1 503.7C565.7 503.4 567.4 503 569.1 502.7C570.7 502.4 572.4 502 574.1 501.7C575.7 501.4 577.4 501 579.1 500.7C580.7 500.4 582.4 500 584.1 499.7C585.7 499.4 587.4 499 589.1 498.7C590.7 498.4 592.4 498.1 594.1 497.9C595.7 497.6 597.4 497.3 599.1 497.1C600.7 496.9 602.4 496.7 604.1 496.5C605.7 496.3 607.4 496.1 609.1 495.9C610.7 495.7 612.4 495.5 614.1 495.3C615.7 495.1 617.4 494.9 619.1 494.8C620.7 494.6 622.4 494.5 624.1 494.4C625.7 494.3 627.4 494.3 629.1 494.3C630.7 494.3 632.4 494.3 634.1 494.4C635.7 494.4 637.4 494.5 639.1 494.6C640.7 494.7 642.4 494.7 644.1 494.9C645.7 495 647.4 495.2 649.1 495.4C650.7 495.7 652.4 496 654.1 496.3C655.7 496.7 657.4 497.1 659.1 497.6C660.7 498 662.4 498.6 664.1 499.2C665.7 499.8 667.4 500.4 669.1 501.1C670.7 501.8 672.4 502.6 674.1 503.5C675.7 504.4 677.4 505.4 679.1 506.4C680.7 507.5 682.4 508.7 684.1 509.9C685.7 511 687.4 512.3 689.1 513.4C690.7 514.5 692.4 515.6 694.1 516.5C695.7 517.3 697.4 518.1 699.1 518.7C700.7 519.2 702.4 519.7 704.1 520C705.7 520.4 707.4 520.6 709.1 520.8C710.7 521.1 712.4 521.2 714.1 521.4C715.7 521.6 717.4 521.8 719.1 522C720.7 522.1 722.4 522.3 724.1 522.5C725.7 522.7 727.4 522.9 729.1 523.1C730.7 523.3 732.4 523.5 734.1 523.7C735.7 523.9 737.4 524.1 739.1 524.3C740.7 524.4 742.4 524.6 744.1 524.7C745.7 524.8 747.4 524.9 749.1 525C750.7 525.1 752.4 525.1 754.1 525.1C755.7 525.1 757.4 525 759.1 524.9C760.7 524.8 762.4 524.7 764.1 524.5C765.7 524.3 767.4 524.1 769.1 523.8C770.8 523.5 772.4 523.2 774.1 522.8C775.8 522.5 777.4 522.1 779.1 521.7C780.8 521.3 782.4 520.9 784.1 520.5C785.8 520.1 787.4 519.7 789.1 519.3C790.8 518.9 792.4 518.5 794.1 518.1C795.8 517.7 797.4 517.4 799.1 517C800.8 516.6 802.4 516.3 804.1 516C805.8 515.7 807.4 515.4 809.1 515.2C810.8 515.1 812.4 515 814.1 515C815.8 515 817.4 515.1 819.1 515.3C820.8 515.5 822.4 515.7 824.1 515.9C825.8 516.2 827.4 516.4 829.1 516.6C830.8 516.8 832.4 517 834.1 517.1C835.8 517.2 837.4 517.3 839.1 517.4C840.8 517.5 842.4 517.6 844.1 517.7C845.8 517.7 847.4 517.8 849.1 517.8C850.8 517.8 852.4 517.8 854.1 517.8C855.8 517.7 857.4 517.7 859.1 517.6C860.8 517.6 862.4 517.5 864.1 517.4C865.8 517.4 867.4 517.3 869.1 517.3C870.8 517.3 872.4 517.3 874.1 517.3C875.8 517.3 877.4 517.4 879.1 517.4C880.8 517.5 882.4 517.6 884.1 517.7C885.8 517.9 887.4 518 889.1 518.1C890.8 518.3 892.4 518.4 894.1 518.5C895.8 518.6 897.4 518.7 899.1 518.8C900.8 518.9 902.4 519 904.1 519C905.8 519.1 907.4 519.1 909.1 519.2C910.8 519.2 912.4 519.2 914.1 519.3C915.8 519.3 917.4 519.3 919.1 519.4C920.8 519.4 922.4 519.4 924.1 519.4C925.8 519.4 927.4 519.4 929.1 519.4C930.8 519.4 932.4 519.3 934.1 519.3C935.8 519.3 937.4 519.3 939.1 519.2C940.8 519.2 942.4 519.1 944.1 519C945.8 518.9 947.4 518.8 949.1 518.6C950.8 518.4 952.4 518.2 954.1 517.9C955.8 517.7 957.4 517.3 959.1 517C960.8 516.6 962.4 516.3 964.1 515.8C965.8 515.3 967.4 514.8 969.1 514.3C970.8 513.7 972.5 513.1 974.1 512.4C975.8 511.8 977.5 511 979.1 510.4C980.8 509.8 982.5 509.2 984.1 508.6C985.8 508 987.5 507.5 989.1 506.9C990.8 506.3 992.5 505.7 994.1 505.1C995.8 504.4 997.5 503.6 999.1 502.9C1000.8 502.1 1002.5 501.3 1004.1 500.5C1005.8 499.8 1007.5 499 1009.1 498.3C1010.8 497.5 1012.5 496.9 1014.1 496.2C1015.8 495.5 1017.5 494.8 1019.1 494.1C1020.8 493.4 1022.5 492.7 1024.1 492C1025.8 491.2 1027.5 490.5 1029.1 489.8C1030.8 489.1 1032.5 488.3 1034.1 487.6C1035.8 486.9 1037.5 486.1 1039.1 485.4C1040.8 484.7 1042.5 484 1044.1 483.2C1045.8 482.5 1047.5 481.8 1049.1 481.1C1050.8 480.4 1052.5 479.7 1054.1 478.9C1055.8 478.2 1057.5 477.5 1059.1 476.8C1060.8 476.1 1062.5 475.4 1064.1 474.7C1065.8 473.9 1067.5 473.2 1069.1 472.5C1070.8 471.8 1072.5 471.1 1074.1 470.4C1075.8 469.7 1077.5 469.1 1079.1 468.4C1080.8 467.7 1082.5 467 1084.1 466.4C1085.8 465.7 1087.5 465 1089.1 464.3C1090.8 463.7 1092.5 463 1094.1 462.3C1095.8 461.7 1097.5 461 1099.1 460.3C1100.8 459.7 1102.5 459 1104.1 458.3C1105.8 457.7 1107.5 457 1109.1 456.3C1110.8 455.7 1112.5 455 1114.1 454.3C1115.8 453.7 1117.5 453 1119.1 452.3C1120.8 451.7 1122.5 451 1124.1 450.3C1125.8 449.7 1127.5 449 1129.1 448.3C1130.8 447.7 1132.5 447 1134.1 446.3C1135.8 445.7 1137.5 445 1139.1 444.3C1140.8 443.7 1142.5 443 1144.1 442.3C1145.8 441.6 1147.5 441 1149.1 440.3C1150.8 439.6 1152.5 438.9 1154.1 438.1C1155.8 437.4 1157.5 436.7 1159.1 436C1160.8 435.2 1162.5 434.5 1164.1 433.8C1165.8 433 1167.5 432.3 1169.1 431.6C1170.8 430.9 1172.5 430.2 1174.2 429.5C1175.8 428.8 1177.5 428.1 1179.2 427.4C1180.8 426.7 1182.5 426 1184.2 425.3C1185.8 424.7 1187.5 424 1189.2 423.3C1190.8 422.7 1192.5 422 1194.2 421.3C1195.8 420.7 1197.5 420 1199.2 419.3C1200.8 418.7 1202.5 418 1204.2 417.3C1205.8 416.7 1207.5 416 1209.2 415.3C1210.8 414.7 1212.5 414 1214.2 413.3C1215.8 412.7 1217.5 412 1219.2 411.4C1220.8 410.7 1222.5 410.1 1224.2 409.4C1225.8 408.8 1227.5 408.2 1229.2 407.5C1230.8 406.9 1232.5 406.3 1234.2 405.7C1235.8 405.1 1237.5 404.5 1239.2 403.9C1240.8 403.3 1242.5 402.7 1244.2 402.1C1245.8 401.5 1247.5 400.9 1249.2 400.3C1250.8 399.7 1252.5 399.1 1254.2 398.5C1255.8 397.9 1257.5 397.3 1259.2 396.7C1260.8 396.1 1262.5 395.5 1264.2 394.9C1265.8 394.3 1267.5 393.7 1269.2 393.1C1270.8 392.6 1272.5 392 1274.2 391.5C1275.8 390.9 1277.5 390.4 1279.2 389.9C1280.8 389.4 1282.5 388.9 1284.2 388.4C1285.8 388 1287.5 387.5 1289.2 387C1290.8 386.6 1292.5 386.1 1294.2 385.6C1295.8 385.1 1297.5 384.6 1299.2 384.1C1300.8 383.7 1302.5 383.1 1304.2 382.6C1305.8 382.1 1307.5 381.6 1309.2 381.1C1310.8 380.5 1312.5 380 1314.2 379.5C1315.8 378.9 1317.5 378.4 1319.2 377.9C1320.8 377.4 1322.5 376.8 1324.2 376.3C1325.8 375.8 1327.5 375.4 1329.2 374.9C1330.8 374.4 1332.5 373.9 1334.2 373.4C1335.8 373 1337.5 372.5 1339.2 372C1340.8 371.6 1342.5 371.1 1344.2 370.6C1345.8 370.2 1347.5 369.7 1349.2 369.2C1350.8 368.8 1352.5 368.3 1354.2 367.8C1355.8 367.4 1357.5 366.9 1359.2 366.4C1360.8 366 1362.5 365.5 1364.2 365C1365.8 364.6 1367.5 364.1 1369.2 363.7C1370.8 363.3 1372.5 362.8 1374.2 362.5C1375.9 362.1 1377.5 361.7 1379.2 361.4C1380.9 361 1382.5 360.7 1384.2 360.4C1385.9 360 1387.5 359.7 1389.2 359.3C1390.9 358.9 1392.5 358.4 1394.2 357.9C1395.9 357.5 1397.5 357 1399.2 356.6C1400.9 356.1 1402.5 355.7 1404.2 355.3C1405.9 354.9 1407.5 354.6 1409.2 354.2C1410.9 353.9 1412.5 353.6 1414.2 353.2C1415.9 352.9 1417.5 352.7 1419.2 352.4C1420.9 352.1 1422.5 351.8 1424.2 351.5C1425.9 351.3 1427.5 351 1429.2 350.7C1430.9 350.5 1432.5 350.2 1434.2 350C1435.9 349.7 1437.5 349.5 1439.2 349.2C1440.9 349 1442.5 348.8 1444.2 348.5C1445.9 348.3 1447.5 348.1 1449.2 347.9C1450.9 347.7 1452.5 347.5 1454.2 347.3C1455.9 347.1 1457.5 347 1459.2 346.8C1460.9 346.6 1462.5 346.4 1464.2 346.2C1465.9 346 1467.5 345.8 1469.2 345.6C1470.9 345.5 1472.5 345.3 1474.2 345.1C1475.9 345 1477.5 344.8 1479.2 344.7C1480.9 344.5 1482.5 344.4 1484.2 344.2C1485.9 344.1 1487.5 343.9 1489.2 343.8C1490.9 343.6 1492.5 343.5 1494.2 343.4C1495.9 343.3 1497.5 343.2 1499.2 343.2C1500.9 343.1 1502.5 343.1 1504.2 343C1505.9 343 1507.5 343 1509.2 343C1510.9 343 1512.5 343 1514.2 343C1515.9 343 1517.5 343 1519.2 343C1520.9 343 1522.5 343 1524.2 343C1525.9 342.9 1527.5 342.9 1529.2 342.9C1530.9 342.9 1532.5 342.8 1534.2 342.8C1535.9 342.8 1537.5 342.7 1539.2 342.7C1540.9 342.7 1542.5 342.7 1544.2 342.8C1545.9 342.8 1547.5 342.9 1549.2 343C1550.9 343.1 1552.5 343.3 1554.2 343.5C1555.9 343.7 1557.5 344 1559.2 344.3C1560.9 344.7 1562.5 345.1 1564.2 345.5C1565.9 346 1567.5 346.5 1569.2 347.1C1570.9 347.7 1572.5 348.4 1574.2 349.1C1575.9 349.8 1577.6 350.6 1579.2 351.4C1580.9 352.2 1582.6 353.1 1584.2 353.9C1585.9 354.7 1587.6 355.6 1589.2 356.4C1590.9 357.3 1592.6 358.1 1594.2 358.9C1595.9 359.7 1597.6 360.4 1599.2 361.2C1600.9 361.9 1602.6 362.7 1604.2 363.4C1605.9 364.2 1607.6 364.9 1609.2 365.6C1610.9 366.3 1612.6 367 1614.2 367.7C1615.9 368.4 1617.6 369 1619.2 369.7C1620.9 370.4 1622.6 371.1 1624.2 371.8C1625.9 372.5 1627.6 373.3 1629.2 374C1630.9 374.8 1632.6 375.5 1634.2 376.3C1635.9 377 1637.6 377.8 1639.2 378.5C1640.9 379.2 1642.6 379.9 1644.2 380.6C1645.9 381.3 1647.6 382 1649.2 382.7C1650.9 383.4 1652.6 384 1654.2 384.7C1655.9 385.3 1657.6 386 1659.2 386.6C1660.9 387.2 1662.6 387.8 1664.2 388.3C1665.9 388.9 1667.6 389.4 1669.2 389.8C1670.9 390.3 1672.6 390.7 1674.2 391.2C1675.9 391.6 1677.6 392 1679.2 392.4C1680.9 392.9 1682.6 393.3 1684.2 393.8C1685.9 394.2 1687.6 394.7 1689.2 395.2C1690.9 395.7 1692.6 396.2 1694.2 396.8C1695.9 397.4 1697.6 398 1699.2 398.7C1700.9 399.4 1702.6 400.1 1704.2 400.9C1705.9 401.6 1707.6 402.4 1709.2 403.2C1710.9 404 1712.6 404.8 1714.2 405.6C1715.9 406.4 1717.6 407.1 1719.2 407.9C1720.9 408.7 1722.6 409.4 1724.2 410.2C1725.9 410.9 1727.6 411.7 1729.2 412.4C1730.9 413.1 1732.6 413.8 1734.2 414.5C1735.9 415.2 1737.6 415.8 1739.2 416.5C1740.9 417.1 1742.6 417.7 1744.2 418.3C1745.9 418.9 1747.6 419.5 1749.2 420.1C1750.9 420.7 1752.6 421.3 1754.2 421.9C1755.9 422.5 1757.6 423 1759.2 423.6C1760.9 424.1 1762.6 424.7 1764.2 425.2C1765.9 425.8 1767.6 426.3 1769.2 426.8C1770.9 427.4 1772.6 427.9 1774.2 428.4C1775.9 428.9 1778.4 429.7 1779.2 430" stroke="#0d2b8f" stroke-width="2" fill="none" stroke-linejoin="round"/>
<path d="M10 227.3C10.7 227 12.7 226.1 14 225.7C15.3 225.3 16.7 224.8 18 224.8C19.3 224.7 20.7 224.7 22 225.4C23.3 226 24.7 227.1 26 228.7C27.3 230.4 28.7 232.9 30 235.4C31.3 237.8 32.7 240.8 34 243.5C35.4 246.2 36.7 249 38 251.4C39.4 253.9 40.7 256.2 42 258C43.4 259.8 44.7 261.2 46 262.3C47.4 263.5 48.7 264.2 50 264.9C51.4 265.5 52.7 265.8 54 266.2C55.4 266.6 56.7 266.7 58 267.1C59.4 267.4 60.7 267.9 62 268.6C63.4 269.2 64.7 270 66 270.9C67.4 271.7 68.7 272.6 70 273.7C71.4 274.7 72.7 275.9 74 277.3C75.4 278.7 76.7 280.4 78 282C79.4 283.7 80.7 285.4 82.1 287.1C83.4 288.8 84.7 290.5 86.1 292.3C87.4 294 88.7 295.8 90.1 297.6C91.4 299.4 92.7 301.3 94.1 303.2C95.4 305 96.7 307 98.1 308.8C99.4 310.6 100.7 312.4 102.1 313.9C103.4 315.4 104.7 316.6 106.1 317.8C107.4 319 108.7 320 110.1 321.1C111.4 322.1 112.7 323.1 114.1 324C115.4 324.9 116.7 325.7 118.1 326.4C119.4 327.1 120.7 327.7 122.1 328.4C123.4 329.1 124.7 329.7 126.1 330.4C127.4 331.1 128.8 331.8 130.1 332.6C131.4 333.3 132.8 334.2 134.1 334.9C135.4 335.5 136.8 336.1 138.1 336.6C139.4 337 140.8 337.1 142.1 337.5C143.4 337.9 144.8 338.2 146.1 338.9C147.4 339.6 148.8 340.6 150.1 341.6C151.4 342.6 152.8 343.6 154.1 345C155.4 346.5 156.8 348.2 158.1 350.5C159.4 352.8 160.8 356 162.1 359C163.4 361.9 164.8 365.1 166.1 368.2C167.4 371.3 168.8 374.2 170.1 377.4C171.4 380.7 172.8 384.2 174.1 387.7C175.5 391.2 176.8 394.9 178.1 398.5C179.5 402 180.8 405.6 182.1 409C183.5 412.4 184.8 415.8 186.1 418.8C187.5 421.9 188.8 424.6 190.1 427.2C191.5 429.8 192.8 432.1 194.1 434.4C195.5 436.7 196.8 438.9 198.1 440.9C199.5 442.9 200.8 444.7 202.1 446.3C203.5 447.9 204.8 449.2 206.1 450.6C207.5 452 208.8 453.3 210.1 454.6C211.5 456 212.8 457.4 214.1 458.8C215.5 460.3 216.8 461.8 218.1 463.4C219.5 465 220.8 466.6 222.1 468.3C223.5 470 224.8 471.8 226.2 473.9C227.5 476 228.8 478.4 230.2 480.8C231.5 483.2 232.8 485.7 234.2 488.3C235.5 490.8 236.8 493.3 238.2 495.9C239.5 498.5 240.8 501.2 242.2 503.8C243.5 506.5 244.8 509.2 246.2 511.8C247.5 514.5 248.8 517.2 250.2 519.8C251.5 522.5 252.8 525.2 254.2 527.8C255.5 530.5 256.8 533.1 258.2 535.7C259.5 538.2 260.8 540.6 262.2 543C263.5 545.3 264.8 547.6 266.2 549.8C267.5 552.1 268.8 554.2 270.2 556.5C271.5 558.7 272.9 561 274.2 563.3C275.5 565.5 276.9 567.9 278.2 570.3C279.5 572.6 280.9 575.1 282.2 577.2C283.5 579.3 284.9 581.2 286.2 583C287.5 584.7 288.9 586 290.2 587.6C291.5 589.1 292.9 590.7 294.2 592.3C295.5 593.8 296.9 595.6 298.2 597.1C299.5 598.6 300.9 600 302.2 601.3C303.5 602.6 304.9 603.8 306.2 604.9C307.5 606 308.9 607 310.2 608C311.5 609 312.9 610 314.2 610.9C315.5 611.9 316.9 612.8 318.2 613.7C319.6 614.6 320.9 615.6 322.2 616.5C323.6 617.3 324.9 618.2 326.2 619C327.6 619.7 328.9 620.3 330.2 620.9C331.6 621.6 332.9 622.1 334.2 622.7C335.6 623.2 336.9 623.8 338.2 624.4C339.6 624.9 340.9 625.5 342.2 626.1C343.6 626.6 344.9 627.2 346.2 627.8C347.6 628.4 348.9 629 350.2 629.5C351.6 630.1 352.9 630.7 354.2 631.3C355.6 631.8 356.9 632.4 358.2 632.8C359.6 633.3 360.9 633.7 362.2 634C363.6 634.4 364.9 634.6 366.3 634.9C367.6 635.3 368.9 635.5 370.3 635.9C371.6 636.3 372.9 636.8 374.3 637.4C375.6 638 376.9 638.7 378.3 639.5C379.6 640.2 380.9 641.1 382.3 641.9C383.6 642.7 384.9 643.5 386.3 644.3C387.6 645.2 388.9 646 390.3 646.8C391.6 647.7 392.9 648.5 394.3 649.4C395.6 650.2 396.9 651.1 398.3 651.9C399.6 652.7 400.9 653.6 402.3 654.4C403.6 655.2 404.9 656 406.3 656.9C407.6 657.7 408.9 658.6 410.3 659.3C411.6 660.1 413 660.9 414.3 661.6C415.6 662.3 417 662.9 418.3 663.5C419.6 664 421 664.5 422.3 665.1C423.6 665.6 425 666.1 426.3 666.6C427.6 667.1 429 667.6 430.3 668.2C431.6 668.7 433 669.3 434.3 669.8C435.6 670.4 437 671 438.3 671.6C439.6 672.2 441 672.7 442.3 673.3C443.6 673.8 445 674.3 446.3 674.8C447.6 675.3 449 675.7 450.3 676.1C451.6 676.5 453 676.8 454.3 677.2C455.6 677.6 457 678 458.3 678.3C459.7 678.7 461 679.1 462.3 679.5C463.7 679.9 465 680.2 466.3 680.6C467.7 681 469 681.4 470.3 681.7C471.7 682.1 473 682.5 474.3 682.8C475.7 683.2 477 683.5 478.3 683.9C479.7 684.2 481 684.6 482.3 685C483.7 685.3 485 685.6 486.3 685.8C487.7 686.1 489 686.2 490.3 686.4C491.7 686.5 493 686.6 494.3 686.7C495.7 686.8 497 687 498.3 687C499.7 687 501 687 502.3 686.9C503.7 686.9 505 686.8 506.4 686.6C507.7 686.5 509 686.3 510.4 686.1C511.7 685.9 513 685.7 514.4 685.3C515.7 684.9 517 684.5 518.4 683.9C519.7 683.3 521 682.6 522.4 681.9C523.7 681.2 525 680.3 526.4 679.6C527.7 678.8 529 678 530.4 677.2C531.7 676.4 533 675.6 534.4 674.7C535.7 673.9 537 673 538.4 672.1C539.7 671.2 541 670.2 542.4 669.4C543.7 668.5 545 667.6 546.4 666.8C547.7 666 549 665.2 550.4 664.5C551.7 663.7 553.1 662.9 554.4 662.2C555.7 661.5 557.1 660.7 558.4 660.1C559.7 659.4 561.1 658.9 562.4 658.3C563.7 657.8 565.1 657.3 566.4 656.7C567.7 656.1 569.1 655.4 570.4 654.8C571.7 654.2 573.1 653.4 574.4 652.8C575.7 652.2 577.1 651.5 578.4 650.9C579.7 650.3 581.1 649.8 582.4 649.3C583.7 648.8 585.1 648.4 586.4 647.9C587.7 647.5 589.1 647.1 590.4 646.6C591.7 646.1 593.1 645.6 594.4 645C595.7 644.5 597.1 643.8 598.4 643.2C599.8 642.6 601.1 641.9 602.4 641.3C603.8 640.6 605.1 639.9 606.4 639.3C607.8 638.7 609.1 638 610.4 637.5C611.8 636.9 613.1 636.5 614.4 636C615.8 635.4 617.1 635 618.4 634.4C619.8 633.8 621.1 633.1 622.4 632.3C623.8 631.5 625.1 630.6 626.4 629.8C627.8 629 629.1 628.2 630.4 627.4C631.8 626.7 633.1 626 634.4 625.3C635.8 624.6 637.1 623.9 638.4 623.3C639.8 622.6 641.1 621.9 642.4 621.3C643.8 620.7 645.1 620.1 646.4 619.5C647.8 618.9 649.1 618.4 650.5 617.8C651.8 617.3 653.1 616.7 654.5 616.2C655.8 615.7 657.1 615.2 658.5 614.7C659.8 614.2 661.1 613.7 662.5 613.3C663.8 612.8 665.1 612.3 666.5 611.8C667.8 611.3 669.1 610.7 670.5 610.1C671.8 609.6 673.1 609 674.5 608.4C675.8 607.8 677.1 607.2 678.5 606.6C679.8 605.9 681.1 605.2 682.5 604.5C683.8 603.7 685.1 603 686.5 602C687.8 601.1 689.1 600.1 690.5 598.9C691.8 597.6 693.1 596.2 694.5 594.5C695.8 592.8 697.2 590.9 698.5 588.7C699.8 586.5 701.2 583.8 702.5 581.1C703.8 578.5 705.2 575.5 706.5 572.8C707.8 570.1 709.2 567.5 710.5 565C711.8 562.5 713.2 560.1 714.5 557.7C715.8 555.4 717.2 553.1 718.5 550.8C719.8 548.6 721.2 546.4 722.5 544.3C723.8 542.2 725.2 540.1 726.5 538.2C727.8 536.3 729.2 534.5 730.5 532.7C731.8 530.8 733.2 529.1 734.5 527.3C735.8 525.6 737.2 523.8 738.5 522.1C739.8 520.4 741.2 518.8 742.5 517.2C743.9 515.6 745.2 514.1 746.5 512.5C747.9 511 749.2 509.5 750.5 508C751.9 506.4 753.2 504.9 754.5 503.4C755.9 501.9 757.2 500.3 758.5 498.8C759.9 497.2 761.2 495.7 762.5 494.1C763.9 492.6 765.2 491.1 766.5 489.5C767.9 487.9 769.2 486.3 770.5 484.5C771.9 482.8 773.2 480.9 774.5 478.9C775.9 476.8 777.2 474.6 778.5 472.4C779.9 470.2 781.2 468 782.5 465.8C783.9 463.5 785.2 461.3 786.5 459.2C787.9 457 789.2 454.9 790.6 452.7C791.9 450.6 793.2 448.5 794.6 446.4C795.9 444.3 797.2 442.2 798.6 440.1C799.9 438 801.2 435.9 802.6 433.9C803.9 431.8 805.2 429.7 806.6 427.7C807.9 425.7 809.2 423.7 810.6 421.7C811.9 419.6 813.2 417.7 814.6 415.6C815.9 413.6 817.2 411.6 818.6 409.4C819.9 407.2 821.2 404.8 822.6 402.4C823.9 400 825.2 397.4 826.6 394.9C827.9 392.4 829.2 389.8 830.6 387.2C831.9 384.6 833.2 382.1 834.6 379.4C835.9 376.7 837.3 374 838.6 371.3C839.9 368.5 841.3 365.7 842.6 362.9C843.9 360.2 845.3 357.3 846.6 354.7C847.9 352.1 849.3 349.6 850.6 347.4C851.9 345.2 853.3 343.4 854.6 341.6C855.9 339.8 857.3 338.2 858.6 336.4C859.9 334.7 861.3 333 862.6 331.3C863.9 329.6 865.3 327.8 866.6 326C867.9 324.2 869.3 322.4 870.6 320.5C871.9 318.7 873.3 316.7 874.6 314.8C875.9 312.9 877.3 311 878.6 309.1C879.9 307.2 881.3 305.3 882.6 303.3C884 301.4 885.3 299.4 886.6 297.3C888 295.3 889.3 293.1 890.6 291C892 288.9 893.3 286.7 894.6 284.7C896 282.6 897.3 280.6 898.6 278.6C900 276.7 901.3 274.7 902.6 272.9C904 271.2 905.3 269.4 906.6 268C908 266.5 909.3 265.2 910.6 264.2C912 263.2 913.3 262.4 914.6 261.8C916 261.2 917.3 261 918.6 260.7C920 260.5 921.3 260.4 922.6 260.2C924 260.1 925.3 259.8 926.6 259.6C928 259.4 929.3 259.1 930.7 259C932 259 933.3 259 934.7 259.1C936 259.2 937.3 259.5 938.7 259.7C940 259.9 941.3 260.2 942.7 260.4C944 260.7 945.3 260.9 946.7 261.2C948 261.4 949.3 261.7 950.7 262.1C952 262.4 953.3 262.7 954.7 263.1C956 263.4 957.3 263.8 958.7 264.1C960 264.4 961.3 264.7 962.7 264.9C964 265.1 965.3 265.3 966.7 265.4C968 265.5 969.3 265.5 970.7 265.4C972 265.4 973.3 265.3 974.7 265.2C976 265 977.4 264.7 978.7 264.4C980 264.1 981.4 263.7 982.7 263.3C984 263 985.4 262.5 986.7 262.2C988 261.9 989.4 261.7 990.7 261.5C992 261.3 993.4 261.2 994.7 261C996 260.8 997.4 260.7 998.7 260.5C1000 260.2 1001.4 259.8 1002.7 259.5C1004 259.2 1005.4 258.8 1006.7 258.6C1008 258.3 1009.4 258.1 1010.7 257.9C1012 257.6 1013.4 257.4 1014.7 257.3C1016 257.1 1017.4 256.9 1018.7 256.8C1020 256.7 1021.4 256.7 1022.7 256.7C1024 256.7 1025.4 256.8 1026.7 256.8C1028.1 256.8 1029.4 256.9 1030.7 256.8C1032.1 256.8 1033.4 256.7 1034.7 256.6C1036.1 256.5 1037.4 256.3 1038.7 256.2C1040.1 256.2 1041.4 256.1 1042.7 256.2C1044.1 256.4 1045.4 256.7 1046.7 257.1C1048.1 257.5 1049.4 258.1 1050.7 258.6C1052.1 259.1 1053.4 259.6 1054.7 260.1C1056.1 260.6 1057.4 261.1 1058.7 261.6C1060.1 262.1 1061.4 262.6 1062.7 263.1C1064.1 263.5 1065.4 263.9 1066.7 264.2C1068.1 264.6 1069.4 264.9 1070.7 265.1C1072.1 265.3 1073.4 265.5 1074.8 265.6C1076.1 265.7 1077.4 265.6 1078.8 265.5C1080.1 265.4 1081.4 265.1 1082.8 264.9C1084.1 264.7 1085.4 264.4 1086.8 264.2C1088.1 263.9 1089.4 263.7 1090.8 263.6C1092.1 263.4 1093.4 263.3 1094.8 263.2C1096.1 263.1 1097.4 263 1098.8 262.9C1100.1 262.8 1101.4 262.7 1102.8 262.7C1104.1 262.6 1105.4 262.6 1106.8 262.5C1108.1 262.5 1109.4 262.5 1110.8 262.6C1112.1 262.6 1113.4 262.6 1114.8 262.7C1116.1 262.8 1117.4 262.9 1118.8 263.2C1120.1 263.4 1121.5 263.8 1122.8 264.3C1124.1 264.7 1125.5 265.3 1126.8 265.9C1128.1 266.6 1129.5 267.3 1130.8 267.9C1132.1 268.5 1133.5 269.1 1134.8 269.6C1136.1 270.1 1137.5 270.4 1138.8 270.8C1140.1 271.1 1141.5 271.5 1142.8 271.8C1144.1 272.1 1145.5 272.4 1146.8 272.6C1148.1 272.8 1149.5 272.9 1150.8 272.8C1152.1 272.8 1153.5 272.7 1154.8 272.5C1156.1 272.3 1157.5 272 1158.8 271.6C1160.1 271.3 1161.5 270.9 1162.8 270.4C1164.1 270 1165.5 269.4 1166.8 268.8C1168.2 268.2 1169.5 267.4 1170.8 266.7C1172.2 266 1173.5 265.1 1174.8 264.5C1176.2 263.9 1177.5 263.4 1178.8 262.9C1180.2 262.5 1181.5 262.2 1182.8 262C1184.2 261.7 1185.5 261.5 1186.8 261.5C1188.2 261.5 1189.5 261.7 1190.8 262C1192.2 262.3 1193.5 262.7 1194.8 263.2C1196.2 263.8 1197.5 264.5 1198.8 265.2C1200.2 265.9 1201.5 266.7 1202.8 267.4C1204.2 268.1 1205.5 268.9 1206.8 269.6C1208.2 270.3 1209.5 271.1 1210.8 271.8C1212.2 272.5 1213.5 273.2 1214.9 273.9C1216.2 274.6 1217.5 275.4 1218.9 276C1220.2 276.7 1221.5 277.3 1222.9 277.9C1224.2 278.4 1225.5 278.9 1226.9 279.3C1228.2 279.7 1229.5 280.1 1230.9 280.5C1232.2 280.9 1233.5 281.3 1234.9 281.7C1236.2 282.1 1237.5 282.5 1238.9 282.9C1240.2 283.3 1241.5 283.6 1242.9 284C1244.2 284.4 1245.5 284.7 1246.9 285.2C1248.2 285.7 1249.5 286.3 1250.9 287C1252.2 287.7 1253.5 288.6 1254.9 289.5C1256.2 290.4 1257.5 291.4 1258.9 292.4C1260.2 293.4 1261.6 294.3 1262.9 295.3C1264.2 296.2 1265.6 297.2 1266.9 298.2C1268.2 299.1 1269.6 300.1 1270.9 301C1272.2 302 1273.6 303 1274.9 304C1276.2 305 1277.6 306.1 1278.9 307.1C1280.2 308.2 1281.6 309.2 1282.9 310.3C1284.2 311.4 1285.6 312.4 1286.9 313.5C1288.2 314.6 1289.6 315.7 1290.9 316.9C1292.2 318 1293.6 319.2 1294.9 320.4C1296.2 321.6 1297.6 322.8 1298.9 324C1300.2 325.2 1301.6 326.4 1302.9 327.4C1304.2 328.5 1305.6 329.5 1306.9 330.3C1308.3 331.2 1309.6 331.9 1310.9 332.7C1312.3 333.4 1313.6 334.1 1314.9 334.8C1316.3 335.5 1317.6 336.2 1318.9 336.9C1320.3 337.6 1321.6 338.3 1322.9 339.1C1324.3 339.8 1325.6 340.5 1326.9 341.2C1328.3 341.9 1329.6 342.6 1330.9 343.3C1332.3 344 1333.6 344.7 1334.9 345.3C1336.3 345.9 1337.6 346.4 1338.9 346.9C1340.3 347.5 1341.6 347.9 1342.9 348.4C1344.3 348.9 1345.6 349.4 1346.9 350C1348.3 350.6 1349.6 351.2 1350.9 352C1352.3 352.7 1353.6 353.6 1355 354.6C1356.3 355.5 1357.6 356.5 1359 357.5C1360.3 358.4 1361.6 359.4 1363 360.4C1364.3 361.5 1365.6 362.5 1367 363.6C1368.3 364.6 1369.6 365.7 1371 366.8C1372.3 367.8 1373.6 368.9 1375 369.9C1376.3 370.9 1377.6 371.9 1379 372.8C1380.3 373.8 1381.6 374.7 1383 375.7C1384.3 376.6 1385.6 377.5 1387 378.4C1388.3 379.2 1389.6 380 1391 380.7C1392.3 381.4 1393.6 382 1395 382.7C1396.3 383.3 1397.6 383.8 1399 384.3C1400.3 384.8 1401.6 385.2 1403 385.6C1404.3 386 1405.7 386.3 1407 386.7C1408.3 387.1 1409.7 387.6 1411 388C1412.3 388.4 1413.7 388.9 1415 389.3C1416.3 389.8 1417.7 390.2 1419 390.7C1420.3 391.2 1421.7 391.7 1423 392.2C1424.3 392.7 1425.7 393.2 1427 393.8C1428.3 394.4 1429.7 394.9 1431 395.6C1432.3 396.3 1433.7 397.2 1435 398.1C1436.3 399 1437.7 400 1439 401C1440.3 402 1441.7 403 1443 404.1C1444.3 405.1 1445.7 406.1 1447 407.2C1448.3 408.3 1449.7 409.4 1451 410.5C1452.4 411.6 1453.7 412.8 1455 413.9C1456.4 415.1 1457.7 416.3 1459 417.4C1460.4 418.5 1461.7 419.6 1463 420.7C1464.4 421.7 1465.7 422.7 1467 423.7C1468.4 424.6 1469.7 425.4 1471 426.3C1472.4 427.1 1473.7 427.9 1475 428.8C1476.4 429.6 1477.7 430.4 1479 431.3C1480.4 432.1 1481.7 432.9 1483 433.8C1484.4 434.7 1485.7 435.6 1487 436.5C1488.4 437.4 1489.7 438.3 1491 439.2C1492.4 440.2 1493.7 441.1 1495 442C1496.4 443 1497.7 443.9 1499.1 444.8C1500.4 445.8 1501.7 446.7 1503.1 447.6C1504.4 448.6 1505.7 449.5 1507.1 450.4C1508.4 451.3 1509.7 452.1 1511.1 452.9C1512.4 453.7 1513.7 454.3 1515.1 455C1516.4 455.7 1517.7 456.3 1519.1 457C1520.4 457.7 1521.7 458.4 1523.1 459.3C1524.4 460.1 1525.7 461.1 1527.1 462.1C1528.4 463.2 1529.7 464.5 1531.1 465.7C1532.4 466.9 1533.7 468.2 1535.1 469.4C1536.4 470.6 1537.7 471.9 1539.1 473.1C1540.4 474.3 1541.7 475.5 1543.1 476.7C1544.4 477.9 1545.8 479 1547.1 480.2C1548.4 481.4 1549.8 482.6 1551.1 484C1552.4 485.3 1553.8 486.7 1555.1 488.2C1556.4 489.7 1557.8 491.3 1559.1 492.9C1560.4 494.5 1561.8 496.1 1563.1 497.6C1564.4 499.1 1565.8 500.6 1567.1 502C1568.4 503.4 1569.8 504.7 1571.1 506.1C1572.4 507.5 1573.8 508.8 1575.1 510.2C1576.4 511.6 1577.8 513 1579.1 514.6C1580.4 516.1 1581.8 517.7 1583.1 519.2C1584.4 520.8 1585.8 522.4 1587.1 524C1588.4 525.6 1589.8 527.2 1591.1 528.8C1592.5 530.4 1593.8 531.9 1595.1 533.5C1596.5 535 1597.8 536.6 1599.1 538.1C1600.5 539.7 1601.8 541.3 1603.1 542.8C1604.5 544.3 1605.8 545.8 1607.1 547.4C1608.5 548.9 1609.8 550.4 1611.1 551.9C1612.5 553.4 1613.8 554.9 1615.1 556.4C1616.5 557.9 1617.8 559.4 1619.1 561C1620.5 562.6 1621.8 564.2 1623.1 565.8C1624.5 567.4 1625.8 569 1627.1 570.6C1628.5 572.2 1629.8 573.8 1631.1 575.4C1632.5 577 1633.8 578.6 1635.1 580.2C1636.5 581.8 1637.8 583.4 1639.2 584.9C1640.5 586.5 1641.8 588.1 1643.2 589.6C1644.5 591.2 1645.8 592.7 1647.2 594.1C1648.5 595.6 1649.8 597 1651.2 598.3C1652.5 599.6 1653.8 600.8 1655.2 601.8C1656.5 602.8 1657.8 603.8 1659.2 604.5C1660.5 605.3 1661.8 606 1663.2 606.5C1664.5 607 1665.8 607.5 1667.2 607.8C1668.5 608.2 1669.8 608.4 1671.2 608.6C1672.5 608.8 1673.8 608.9 1675.2 608.9C1676.5 609 1677.8 609 1679.2 609C1680.5 609 1681.8 609 1683.2 609C1684.5 609.1 1685.9 609.1 1687.2 609.2C1688.5 609.2 1689.9 609.3 1691.2 609.4C1692.5 609.4 1693.9 609.5 1695.2 609.6C1696.5 609.7 1697.9 609.7 1699.2 609.8C1700.5 609.9 1701.9 610 1703.2 610.1C1704.5 610.2 1705.9 610.3 1707.2 610.4C1708.5 610.5 1709.9 610.6 1711.2 610.7C1712.5 610.8 1713.9 610.9 1715.2 610.9C1716.5 611 1717.9 611 1719.2 611C1720.5 611 1721.9 611 1723.2 611C1724.5 611 1725.9 611 1727.2 611.1C1728.5 611.2 1729.9 611.4 1731.2 611.6C1732.6 611.8 1733.9 612 1735.2 612.2C1736.6 612.4 1737.9 612.7 1739.2 612.8C1740.6 613 1741.9 613.2 1743.2 613.4C1744.6 613.5 1745.9 613.7 1747.2 613.9C1748.6 614 1749.9 614.2 1751.2 614.2C1752.6 614.3 1753.9 614.3 1755.2 614.3C1756.6 614.3 1757.9 614.2 1759.2 614.1C1760.6 614.1 1761.9 614 1763.2 613.8C1764.6 613.7 1765.9 613.5 1767.2 613.3C1768.6 613.1 1769.9 612.9 1771.2 612.6C1772.6 612.4 1773.9 612.1 1775.2 611.9C1776.6 611.6 1778.6 611.1 1779.2 611" stroke="#e91e63" stroke-width="2" fill="none" stroke-linejoin="round"/>
<path d="M835.5 104H1921" stroke="#f23645" stroke-width="2" fill="none"/>
<path d="M836 104V132" stroke="#ef5350" stroke-width="1" fill="none"/>
<rect x="404" y="624" width="114.5" height="76" fill="none" stroke="#0b1f91" stroke-width="2"/>
<rect x="1660.5" y="497" width="139.5" height="125.5" fill="none" stroke="#0b1f91" stroke-width="2"/>
<rect x="265.3" y="721" width="1486.7" height="11" fill="none" stroke="#1b5e20" stroke-width="2"/>
<path d="M247.3 679.6C249.9 684.8 258.2 702.2 263 711C267.8 719.8 270.7 725.3 276.2 732.5C281.7 739.7 288.6 747.5 296 754C303.4 760.5 312.5 766.9 320.8 771.3C329.1 775.7 337.9 778.5 345.6 780.4C353.3 782.3 358.8 782.9 367 782.8C375.2 782.6 384.9 781.8 395.1 779.5C405.3 777.2 417.2 773.3 428.2 768.8C439.2 764.3 450.2 758.3 461.2 752.3C472.2 746.2 486.2 737.7 494.2 732.5C502.2 727.3 503.5 725.4 509 720.9C514.5 716.4 522.1 709.5 527.2 705.2C532.3 700.9 537.5 696.9 539.6 695.3M525.2 694.2L539.6 695.3L538.8 709.4" stroke="#1b5e20" stroke-width="2" fill="none" stroke-linejoin="round"/>
<path d="M1459.8 667.2C1462 671.2 1467.8 682.2 1473 691.2C1478.2 700.2 1486.7 714.2 1491.2 720.9C1495.8 727.6 1495.1 726.4 1500.3 731.6C1505.5 736.8 1514.8 746.4 1522.6 752.3C1530.4 758.2 1539 763.5 1547.3 767.1C1555.5 770.7 1565.8 772.8 1572.1 774.1C1578.4 775.4 1579.8 775.2 1585.3 775.1C1590.8 775 1597.7 774.7 1605.1 773.4C1612.5 772.1 1621.6 769.8 1629.9 767.1C1638.2 764.4 1646.5 761.2 1654.7 757.2C1663 753.2 1673.1 747.1 1679.4 743.2C1685.7 739.4 1687.9 737.8 1692.6 734.1C1697.3 730.4 1701.4 726.4 1707.5 720.9C1713.6 715.4 1722.2 707.5 1729 701.1C1735.8 694.7 1745.2 685.7 1748.5 682.6M1733.1 683.3L1748.5 682.6L1748.5 697.8" stroke="#1b5e20" stroke-width="2" fill="none" stroke-linejoin="round"/>
<path d="M10 796.5H2049" stroke="#363a45" stroke-width="1" fill="none"/>
<path d="M10 951.5H2049" stroke="#363a45" stroke-width="1" fill="none"/>
<path d="M10 1031.5H2049" stroke="#363a45" stroke-width="1" fill="none"/>
<path d="M10 1109.5H2049" stroke="#363a45" stroke-width="1" fill="none"/>
<path d="M10 1164.5H2049" stroke="#e0e3eb" stroke-width="1" fill="none"/>
<path d="M1921.5 27V1207" stroke="#d9dade" stroke-width="1" fill="none"/>
<clipPath id="cp"><rect x="10" y="27" width="1911" height="1137"/></clipPath><g clip-path="url(#cp)">
<path d="M10 840.5H1919M10 924.5H1919" stroke="#787b86" stroke-width="1" stroke-dasharray="5 6" fill="none"/>
<path d="M10 882H1921" stroke="#1c3eaa" stroke-width="2" stroke-dasharray="11.5 10.5" fill="none"/>
<path d="M7.9 872.9L12.3 875.9L16.6 878.9L21 880.5L25.4 881.4L29.7 882.6L34.1 883L38.4 883.2L42.8 882.8L47.2 881.9L51.5 881L55.9 879.5L60.3 878.6L64.6 879.2L69 880.7L73.3 882.3L77.7 885.3L82.1 888.7L86.4 892.6L90.8 895.9L95.2 900.1L99.5 903.7L103.9 906.8L108.2 909.7L112.6 912.4L117 915.5L121.3 918.3L125.7 920.1L130.1 921.1L134.4 922.3L138.8 923L143.1 923.6L147.5 924L151.9 924.5L156.2 924.3L160.6 922.8L165 921L169.3 918.5L173.7 917L178 915.1L182.4 913.5L186.8 912.1L191.1 910.2L195.5 907.8L199.9 905.5L204.2 903.1L208.6 900.5L212.9 897.6L217.3 895L221.7 894L226 894L230.4 894.8L234.8 894.8L239.1 895.4L243.5 896.2L247.8 897.1L252.2 896.9L256.6 897.7L260.9 898.1L265.3 898.4L269.7 899L274 900.1L278.4 901.3L282.7 902.8L287.1 905L291.5 907.2L295.8 908.7L300.2 910.1L304.6 911.3L308.9 912.2L313.3 915.1L317.6 917.7L322 920.4L326.4 922.5L330.7 922.9L335.1 922.9L339.5 922.1L343.8 921.3L348.2 919.6L352.5 918.5L356.9 917.6L361.3 915.6L365.6 912.9L370 910.9L374.4 908.6L378.7 906.4L383.1 904.3L387.4 903.4L391.8 903.9L396.2 904.3L400.5 905.1L404.9 905.1L409.3 904.6L413.6 903L418 900.2L422.3 896.7L426.7 893.1L431.1 890.2L435.4 887.8L439.8 886L444.2 885.1L448.5 883.1L452.9 881.5L457.2 879.2L461.6 875.7L466 873.1L470.3 871.8L474.7 871.6L479.1 873L483.4 875.2L487.8 877.2L492.1 877.6L496.5 877.9L500.9 877.4L505.2 876.1L509.6 874.6L514 872.7L518.3 871.4L522.7 869.4L527 867L531.4 863.7L535.8 859L540.1 855.9L544.5 852.9L548.9 851.5L553.2 850L557.6 849.1L561.9 848.4L566.3 847.9L570.7 847.5L575 847.7L579.4 848.8L583.8 852.6L588.1 856.7L592.5 861.1L596.8 865.1L601.2 866.9L605.6 869.7L609.9 871.6L614.3 875.2L618.7 878.4L623 879.9L627.4 880.2L631.7 880.1L636.1 878.2L640.5 876.7L644.8 873.8L649.2 872.6L653.6 871.6L657.9 872.2L662.3 872.6L666.6 873.4L671 874.1L675.4 873.6L679.7 871.4L684.1 870.6L688.5 870.1L692.8 868.9L697.2 868.8L701.6 866.3L705.9 863.7L710.3 862.6L714.6 860.3L719 856.9L723.4 855.5L727.7 853.7L732.1 852.5L736.5 850.4L740.8 850L745.2 850L749.5 850.5L753.9 851.9L758.3 853.6L762.6 856.2L767 860.1L771.4 860.9L775.7 861.4L780.1 862.7L784.4 863.1L788.8 863.3L793.2 862.7L797.5 864.2L801.9 865.2L806.3 865.3L810.6 865.3L815 865.2L819.3 865.9L823.7 866.4L828.1 866L832.4 864.6L836.8 864.6L841.2 864.1L845.5 863.8L849.9 863.5L854.2 864.2L858.6 863.2L863 863.5L867.3 864.6L871.7 865.5L876.1 867.3L880.4 868.7L884.8 870.1L889.1 872.4L893.5 875.6L897.9 877.9L902.2 880.1L906.6 880.6L911 881.3L915.3 881.1L919.7 881.5L924 880.9L928.4 879.9L932.8 880.7L937.1 881.2L941.5 882.7L945.9 884.6L950.2 886.8L954.6 888.8L958.9 890.9L963.3 893.2L967.7 896.5L972 897.7L976.4 897.6L980.8 897L985.1 896.1L989.5 894.4L993.8 892.5L998.2 890.8L1002.6 887.2L1006.9 883.2L1011.3 880.4L1015.7 877.9L1020 876.2L1024.4 874.1L1028.7 872.2L1033.1 872L1037.5 871.7L1041.8 872L1046.2 872.6L1050.6 874.9L1054.9 875.8L1059.3 875.9L1063.6 877.1L1068 879.2L1072.4 878.7L1076.7 878.4L1081.1 877.2L1085.5 876.4L1089.8 876.1L1094.2 876.7L1098.5 878L1102.9 879.3L1107.3 880.6L1111.6 880.9L1116 881.6L1120.4 882.1L1124.7 884.2L1129.1 885.7L1133.4 887.5L1137.8 888.6L1142.2 889.3L1146.5 890.3L1150.9 891.4L1155.3 891.6L1159.6 891.9L1164 891.7L1168.3 891.3L1172.7 890.5L1177.1 890.5L1181.4 891.5L1185.8 891.4L1190.2 890.9L1194.5 890.9L1198.9 890.8L1203.2 892.1L1207.6 892.5L1212 892.3L1216.3 892.7L1220.7 892.7L1225.1 893.2L1229.4 894L1233.8 895.4L1238.1 896.6L1242.5 897.6L1246.9 897.1L1251.2 897.9L1255.6 898.7L1260 900.5L1264.3 902.7L1268.7 904.3L1273 905.2L1277.4 906.4L1281.8 907.7L1286.1 908.9L1290.5 910.1L1294.9 911.4L1299.2 912.3L1303.6 912.2L1307.9 913.9L1312.3 911.5L1316.7 908.8L1321 907.1L1325.4 904.7L1329.8 903.7L1334.1 902.1L1338.5 899.1L1342.8 897.7L1347.2 896L1351.6 894.7L1355.9 893.6L1360.3 892.4L1364.7 892.2L1369 891.4L1373.4 893.5L1377.7 894.5L1382.1 894.8L1386.5 895.4L1390.8 895.8L1395.2 894.8L1399.6 895L1403.9 894.6L1408.3 894.2L1412.6 893.2L1417 891.6L1421.4 890.7L1425.7 889.2L1430.1 887.8L1434.5 887.5L1438.8 888.6L1443.2 889.5L1447.5 889.8L1451.9 890.1L1456.3 893L1460.6 896L1465 898.8L1469.4 901.4L1473.7 903.9L1478.1 907L1482.5 909.1L1486.8 911.3L1491.2 913.8L1495.5 915.5L1499.9 915.2L1504.3 915.6L1508.6 916.3L1513 915.3L1517.4 913.8L1521.7 912.6L1526.1 911.6L1530.4 910.8L1534.8 909.5L1539.2 908.5L1543.5 908.2L1547.9 908.3L1552.3 908L1556.6 908L1561 909.3L1565.3 908.9L1569.7 909.1L1574.1 910.8L1578.4 913.4L1582.8 915.3L1587.2 916.7L1591.5 918.9L1595.9 921.6L1600.2 923.8L1604.6 925.3L1609 926.6L1613.3 925.2L1617.7 923.7L1622.1 922.4L1626.4 921.5L1630.8 920.1L1635.1 918.2L1639.5 916.6L1643.9 914.8L1648.2 912.5L1652.6 909.3L1657 903.6L1661.3 897.8L1665.7 892.8L1670 886.8L1674.4 882.6L1678.8 877.6L1683.1 873.2L1687.5 869.7L1691.9 865.9L1696.2 862.9L1700.6 859.8L1704.9 857.3L1709.3 855.2L1713.7 853.5L1718 854.3L1722.4 855.6L1726.8 856.5L1731.1 859.2L1735.5 862.6L1739.8 866.3L1744.2 869L1748.6 870.6L1752.9 873L1757.3 874.9L1761.7 875.9L1766 876.9L1770.4 877.3L1774.7 879.1L1779.1 880.5" stroke="#ffe838" stroke-width="1.2" fill="none" stroke-linejoin="round"/>
<path d="M7.9 882.5L12.3 879.3L16.6 869.7L21 867.4L25.4 867.2L29.7 876.1L34.1 872.7L38.4 876.5L42.8 877.1L47.2 881.8L51.5 886.1L55.9 883.6L60.3 886.5L64.6 900L69 906.6L73.3 903.6L77.7 913.4L82.1 918.1L86.4 923.6L90.8 923.8L95.2 932.5L99.5 926.2L103.9 919.9L108.2 921.5L112.6 922.5L117 926.2L121.3 924.6L125.7 924.1L130.1 920.7L134.4 920L138.8 922.3L143.1 926.1L147.5 927.6L151.9 930.4L156.2 930.4L160.6 904.8L165 893.9L169.3 886.9L173.7 900.5L178 899.2L182.4 903.1L186.8 904.4L191.1 894L195.5 885.9L199.9 889.7L204.2 892.4L208.6 891.4L212.9 890.3L217.3 893L221.7 891.4L226 894L230.4 898.3L234.8 900.1L239.1 908.3L243.5 913.2L247.8 917.2L252.2 891.8L256.6 896.2L260.9 895.2L265.3 897.5L269.7 899.4L274 905.7L278.4 910.5L282.7 911.2L287.1 925.9L291.5 928.4L295.8 921.6L300.2 927L304.6 931.2L308.9 929.7L313.3 931.5L317.6 933.1L322 933.5L326.4 926.8L330.7 905.4L335.1 904.3L339.5 900.5L343.8 898.9L348.2 902.8L352.5 913.2L356.9 908.3L361.3 898.8L365.6 893.6L370 901.8L374.4 899.4L378.7 902.9L383.1 903.2L387.4 915.2L391.8 911.5L396.2 909.5L400.5 912.5L404.9 898.5L409.3 895.7L413.6 890.7L418 870L422.3 849.6L426.7 842.5L431.1 861L435.4 866.7L439.8 877.8L444.2 889.6L448.5 888.3L452.9 889L457.2 876.9L461.6 863.8L466 862.4L470.3 876.8L474.7 888.9L479.1 889.2L483.4 879.5L487.8 870.6L492.1 867.5L496.5 870L500.9 871.7L505.2 870.4L509.6 868.1L514 861.4L518.3 859.9L522.7 835.6L527 828.2L531.4 831.3L535.8 822.7L540.1 846.3L544.5 836.7L548.9 850.6L553.2 847.4L557.6 857.1L561.9 861.8L566.3 862.8L570.7 863.2L575 863.6L579.4 875.9L583.8 889.2L588.1 885.2L592.5 892.7L596.8 878.8L601.2 871.9L605.6 875.5L609.9 877.8L614.3 896.7L618.7 902.6L623 882.1L627.4 867.4L631.7 861.4L636.1 837.5L640.5 854.3L644.8 849.6L649.2 867.9L653.6 879.4L657.9 886.2L662.3 878.4L666.6 886.4L671 887L675.4 890.1L679.7 871.8L684.1 871.3L688.5 860.4L692.8 844.4L697.2 836.5L701.6 819.5L705.9 812.5L710.3 853.1L714.6 846.4L719 838.3L723.4 859.2L727.7 861.2L732.1 870.6L736.5 860.6L740.8 866.1L745.2 870.8L749.5 867.7L753.9 864.8L758.3 859L762.6 856.9L767 866.1L771.4 865.6L775.7 852.3L780.1 857.2L784.4 864.4L788.8 863.5L793.2 863.4L797.5 881L801.9 880.6L806.3 872.3L810.6 867.7L815 862.8L819.3 868.4L823.7 864.4L828.1 860.6L832.4 845.9L836.8 852.2L841.2 849.8L845.5 860.6L849.9 858.9L854.2 872.9L858.6 868.3L863 884.8L867.3 887.4L871.7 880.2L876.1 887.7L880.4 887.5L884.8 885L889.1 891.8L893.5 891.2L897.9 883.8L902.2 881.4L906.6 868L911 867.6L915.3 870.1L919.7 874.4L924 876L928.4 874.3L932.8 891.3L937.1 894.2L941.5 908.9L945.9 911.3L950.2 923.1L954.6 919.3L958.9 911.9L963.3 914.8L967.7 913.1L972 884.8L976.4 868.8L980.8 866.1L985.1 863.2L989.5 850.7L993.8 864.5L998.2 870.6L1002.6 858.3L1006.9 855L1011.3 884.8L1015.7 884.4L1020 888.2L1024.4 885.7L1028.7 886.3L1033.1 881.4L1037.5 864.8L1041.8 870.5L1046.2 871.1L1050.6 883.5L1054.9 877.2L1059.3 872L1063.6 874.9L1068 883.6L1072.4 878.8L1076.7 879.9L1081.1 871.1L1085.5 874.2L1089.8 882.8L1094.2 889.4L1098.5 883.5L1102.9 888.4L1107.3 889.3L1111.6 887.2L1116 886.6L1120.4 879.2L1124.7 904.6L1129.1 905.2L1133.4 903.6L1137.8 895.9L1142.2 880L1146.5 888.3L1150.9 898.7L1155.3 891.9L1159.6 887.8L1164 885.7L1168.3 883.5L1172.7 876.6L1177.1 885.9L1181.4 893.4L1185.8 902.8L1190.2 898.6L1194.5 903.6L1198.9 894.9L1203.2 897.8L1207.6 893.8L1212 896.5L1216.3 897.1L1220.7 888.5L1225.1 892.2L1229.4 894.5L1233.8 896.5L1238.1 902.9L1242.5 906.9L1246.9 895.3L1251.2 910.5L1255.6 913.8L1260 920.1L1264.3 929.7L1268.7 915.9L1273 909.3L1277.4 914.2L1281.8 906.6L1286.1 907.9L1290.5 911.8L1294.9 914.4L1299.2 915.7L1303.6 906.1L1307.9 919L1312.3 876.1L1316.7 876.8L1321 896.3L1325.4 895.4L1329.8 901.9L1334.1 887.9L1338.5 871.2L1342.8 887.2L1347.2 884.2L1351.6 893.2L1355.9 899L1360.3 899.4L1364.7 902.9L1369 907.7L1373.4 905.5L1377.7 891.3L1382.1 900.1L1386.5 904.1L1390.8 908L1395.2 873.3L1399.6 873.9L1403.9 882.3L1408.3 878.4L1412.6 879.4L1417 876.9L1421.4 886.2L1425.7 882.1L1430.1 888.2L1434.5 901.2L1438.8 905.8L1443.2 913.3L1447.5 907.6L1451.9 912.7L1456.3 913.9L1460.6 915.4L1465 922.8L1469.4 914.1L1473.7 914.8L1478.1 919.8L1482.5 916.3L1486.8 912.7L1491.2 922.2L1495.5 925.2L1499.9 902.4L1504.3 918L1508.6 917.4L1513 899.3L1517.4 892.8L1521.7 898.8L1526.1 909L1530.4 902.5L1534.8 897L1539.2 905.1L1543.5 912.8L1547.9 913.6L1552.3 918.7L1556.6 924.5L1561 921L1565.3 912.3L1569.7 919.5L1574.1 924L1578.4 929.1L1582.8 924.9L1587.2 928.7L1591.5 932.9L1595.9 934.8L1600.2 936.1L1604.6 934L1609 931.8L1613.3 900L1617.7 902.6L1622.1 903.2L1626.4 898.9L1630.8 900.4L1635.1 897.2L1639.5 907L1643.9 899.4L1648.2 896.5L1652.6 887.8L1657 855.5L1661.3 854.5L1665.7 864.7L1670 847.9L1674.4 841.4L1678.8 832.6L1683.1 840.6L1687.5 850.9L1691.9 847.3L1696.2 855L1700.6 862.7L1704.9 864.8L1709.3 866.7L1713.7 864.7L1718 866.6L1722.4 872L1726.8 878.4L1731.1 885.3L1735.5 888.5L1739.8 884L1744.2 879L1748.6 873.7L1752.9 880.1L1757.3 882.4L1761.7 877L1766 878L1770.4 872.3L1774.7 889.9L1779.1 886.5" stroke="#000" stroke-width="2" fill="none" stroke-linejoin="round"/>
<rect x="10" y="973" width="1911" height="38.5" fill="#e8f3fd"/>
<path d="M10 973.5H1919M10 1011.5H1919" stroke="#787b86" stroke-width="1" stroke-dasharray="5 6" fill="none"/>
<path d="M10 992.5H1919" stroke="#9ea1a9" stroke-width="1" stroke-dasharray="5 6" fill="none"/>
<path d="M7.9 1009.5L12.3 1002.1L16.6 991.3L21 979.6L25.4 967.8L29.7 966.9L34.1 967.6L38.4 972.3L42.8 972.7L47.2 977.3L51.5 982.1L55.9 987.1L60.3 996.7L64.6 1008.5L69 1019.8L73.3 1022.5L77.7 1022.5L82.1 1022.5L86.4 1024.1L90.8 1024.1L95.2 1024.1L99.5 1021.7L103.9 1016.5L108.2 1011.7L112.6 1009.8L117 1012.1L121.3 1011.8L125.7 1009.9L130.1 1004.2L134.4 995.4L138.8 986.5L143.1 984.4L147.5 990.2L151.9 1001.7L156.2 1012.4L160.6 999.3L165 981.6L169.3 960.4L173.7 967L178 973L182.4 980.9L186.8 982.8L191.1 980.3L195.5 972.4L199.9 965.7L204.2 965.3L208.6 967.9L212.9 968.2L217.3 973L221.7 976.7L226 984L230.4 990.3L234.8 1000.3L239.1 1012.2L243.5 1019.2L247.8 1024.1L252.2 1006.9L256.6 990.7L260.9 973.3L265.3 975L269.7 977.2L274 985L278.4 995L282.7 1004L287.1 1013.5L291.5 1019.1L295.8 1020.2L300.2 1019.3L304.6 1019.3L308.9 1022.5L313.3 1023.3L317.6 1023.3L322 1024.1L326.4 1020L330.7 998.7L335.1 977.5L339.5 960.4L343.8 960.4L348.2 962.8L352.5 971.5L356.9 977.3L361.3 974.9L365.6 966.1L370 964.7L374.4 967.8L378.7 972.7L383.1 974.5L387.4 992.7L391.8 1005.4L396.2 1014.8L400.5 1012.1L404.9 999.3L409.3 985.8L413.6 967.3L418 962.5L422.3 960.4L426.7 960.4L431.1 965.8L435.4 972.9L439.8 983.2L444.2 991.5L448.5 998.3L452.9 1002.1L457.2 998.8L461.6 993L466 986.8L470.3 991.5L474.7 1004.4L479.1 1017.6L483.4 1019.1L487.8 1005.3L492.1 988.2L496.5 977.5L500.9 977.7L505.2 980L509.6 978.6L514 971.3L518.3 964.9L522.7 960.4L527 960.4L531.4 961.5L535.8 961.5L540.1 970.3L544.5 975.3L548.9 987.4L553.2 989.2L557.6 998.1L561.9 1003.4L566.3 1011.5L570.7 1017.8L575 1021.7L579.4 1024.1L583.8 1024.1L588.1 1022.8L592.5 1022.8L596.8 1017.6L601.2 1011L605.6 1002.9L609.9 1001.2L614.3 1009.1L618.7 1017.1L623 1013.2L627.4 994.2L631.7 972.9L636.1 962.7L640.5 965.9L644.8 969.8L649.2 979.8L653.6 987.9L657.9 999.9L662.3 1003.3L666.6 1005.6L671 1005.9L675.4 1009.7L679.7 1007.6L684.1 1005.1L688.5 997.2L692.8 986.1L697.2 972.4L701.6 963.2L705.9 960.4L710.3 971.5L714.6 980.8L719 987.8L723.4 989.5L727.7 993.6L732.1 1002.4L736.5 1006.8L740.8 1012.9L745.2 1018.2L749.5 1021.1L753.9 1020.8L758.3 1016.5L762.6 1012.6L767 1011.7L771.4 1012.6L775.7 1005.6L780.1 993L784.4 989L788.8 992.7L793.2 999.9L797.5 1007.3L801.9 1015.4L806.3 1017.4L810.6 1007.6L815 994.4L819.3 991.5L823.7 989L828.1 987.4L832.4 975.5L836.8 970.4L841.2 966.6L845.5 975.6L849.9 979.6L854.2 993.6L858.6 998.4L863 1011.8L867.3 1016.6L871.7 1020.4L876.1 1020.4L880.4 1020.3L884.8 1022.7L889.1 1022.7L893.5 1022.5L897.9 1019.8L902.2 1013.1L906.6 998L911 980.8L915.3 968.5L919.7 968.5L924 975.9L928.4 979.6L932.8 994.5L937.1 1008.4L941.5 1023.7L945.9 1024.1L950.2 1024.1L954.6 1022.7L958.9 1018.4L963.3 1015.2L967.7 1012.8L972 1001.7L976.4 983.6L980.8 966.3L985.1 960.4L989.5 960.4L993.8 964.4L998.2 970.2L1002.6 972.5L1006.9 969.7L1011.3 974.4L1015.7 983.3L1020 994.5L1024.4 995.9L1028.7 1004.9L1033.1 1009.9L1037.5 1005.9L1041.8 996.9L1046.2 991.1L1050.6 1001.4L1054.9 1004.4L1059.3 1003.7L1063.6 998.2L1068 1001.1L1072.4 1002.9L1076.7 1003.9L1081.1 993L1085.5 989.5L1089.8 996.1L1094.2 1011.1L1098.5 1016.6L1102.9 1016.5L1107.3 1016.4L1111.6 1020.5L1116 1018.4L1120.4 1006.6L1124.7 1009.1L1129.1 1012.2L1133.4 1023.1L1137.8 1017.3L1142.2 1000.1L1146.5 987.3L1150.9 987.9L1155.3 994.2L1159.6 993.8L1164 983.2L1168.3 976.3L1172.7 969.3L1177.1 970.9L1181.4 979.8L1185.8 999.2L1190.2 1009.7L1194.5 1018.4L1198.9 1013.4L1203.2 1012.7L1207.6 1005L1212 1006.3L1216.3 1005.7L1220.7 1001.5L1225.1 998.1L1229.4 996.2L1233.8 999.5L1238.1 1007.4L1242.5 1014.6L1246.9 1009.7L1251.2 1010.7L1255.6 1010.7L1260 1024.1L1264.3 1024.1L1268.7 1017L1273 1006.5L1277.4 998.5L1281.8 992.5L1286.1 989.8L1290.5 986.8L1294.9 990.5L1299.2 995L1303.6 991.5L1307.9 991.3L1312.3 978.7L1316.7 972.3L1321 968.7L1325.4 978.2L1329.8 990.7L1334.1 988.6L1338.5 979L1342.8 973.3L1347.2 973.2L1351.6 983L1355.9 988.3L1360.3 995L1364.7 999.4L1369 1008.3L1373.4 1015.6L1377.7 1013.3L1382.1 1008.8L1386.5 1008L1390.8 1017.5L1395.2 1001.9L1399.6 983.2L1403.9 967.5L1408.3 969.4L1412.6 972.8L1417 969.5L1421.4 974.3L1425.7 975.9L1430.1 982.9L1434.5 992.1L1438.8 1006.6L1443.2 1018.6L1447.5 1019.8L1451.9 1020.9L1456.3 1020.9L1460.6 1023.8L1465 1024.1L1469.4 1020.1L1473.7 1016.4L1478.1 1014.8L1482.5 1015.5L1486.8 1013L1491.2 1014.1L1495.5 1017.4L1499.9 1002.4L1504.3 996.1L1508.6 988.9L1513 988.9L1517.4 974.3L1521.7 964.3L1526.1 975L1530.4 981.4L1534.8 980.2L1539.2 977.6L1543.5 984.4L1547.9 995.2L1552.3 1004.2L1556.6 1012.3L1561 1017.6L1565.3 1013.7L1569.7 1010.3L1574.1 1012.3L1578.4 1020.4L1582.8 1021L1587.2 1021.1L1591.5 1021.1L1595.9 1023.9L1600.2 1024.1L1604.6 1022.3L1609 1018.5L1613.3 997.2L1617.7 979.4L1622.1 963.8L1626.4 963.8L1630.8 963.1L1635.1 961.2L1639.5 966.6L1643.9 966.9L1648.2 966.9L1652.6 961.5L1657 960.4L1661.3 960.4L1665.7 963.2L1670 963.2L1674.4 963.2L1678.8 960.4L1683.1 962.7L1687.5 967.9L1691.9 972.1L1696.2 976.2L1700.6 980.6L1704.9 987.1L1709.3 993.8L1713.7 1004.2L1718 1014.7L1722.4 1022.8L1726.8 1024.1L1731.1 1024.1L1735.5 1024.1L1739.8 1022.1L1744.2 1017.2L1748.6 1009.6L1752.9 1006.2L1757.3 1006.1L1761.7 1003.4L1766 999.4L1770.4 990L1774.7 1000.3L1779.1 1005.6" stroke="#2962ff" stroke-width="1" fill="none" stroke-linejoin="round"/>
<path d="M7.9 1016.2L12.3 1009.5L16.6 1000.9L21 991L25.4 979.6L29.7 971.4L34.1 967.4L38.4 968.9L42.8 970.9L47.2 974.1L51.5 977.4L55.9 982.2L60.3 988.7L64.6 997.4L69 1008.3L73.3 1016.9L77.7 1021.6L82.1 1022.5L86.4 1023L90.8 1023.6L95.2 1024.1L99.5 1023.3L103.9 1020.8L108.2 1016.6L112.6 1012.6L117 1011.2L121.3 1011.2L125.7 1011.3L130.1 1008.6L134.4 1003.2L138.8 995.4L143.1 988.8L147.5 987L151.9 992.1L156.2 1001.4L160.6 1004.5L165 997.8L169.3 980.4L173.7 969.7L178 966.8L182.4 973.6L186.8 978.9L191.1 981.3L195.5 978.5L199.9 972.8L204.2 967.8L208.6 966.3L212.9 967.1L217.3 969.7L221.7 972.6L226 977.9L230.4 983.7L234.8 991.5L239.1 1000.9L243.5 1010.6L247.8 1018.5L252.2 1016.7L256.6 1007.2L260.9 990.3L265.3 979.6L269.7 975.2L274 979.1L278.4 985.7L282.7 994.7L287.1 1004.2L291.5 1012.2L295.8 1017.6L300.2 1019.5L304.6 1019.6L308.9 1020.4L313.3 1021.7L317.6 1023.1L322 1023.6L326.4 1022.5L330.7 1014.3L335.1 998.7L339.5 978.9L343.8 966.1L348.2 961.2L352.5 964.9L356.9 970.5L361.3 974.6L365.6 972.8L370 968.6L374.4 966.2L378.7 968.4L383.1 971.7L387.4 980L391.8 990.9L396.2 1004.3L400.5 1010.8L404.9 1008.7L409.3 999.1L413.6 984.1L418 971.8L422.3 963.4L426.7 961.1L431.1 962.2L435.4 966.3L439.8 973.9L444.2 982.5L448.5 991L452.9 997.3L457.2 999.8L461.6 998L466 992.9L470.3 990.5L474.7 994.3L479.1 1004.5L483.4 1013.7L487.8 1014L492.1 1004.2L496.5 990.4L500.9 981.1L505.2 978.4L509.6 978.8L514 976.6L518.3 971.6L522.7 965.5L527 961.9L531.4 960.7L535.8 961.1L540.1 964.4L544.5 969L548.9 977.6L553.2 983.9L557.6 991.5L561.9 996.9L566.3 1004.3L570.7 1010.9L575 1017L579.4 1021.2L583.8 1023.3L588.1 1023.7L592.5 1023.3L596.8 1021.1L601.2 1017.1L605.6 1010.5L609.9 1005L614.3 1004.4L618.7 1009.1L623 1013.1L627.4 1008.2L631.7 993.4L636.1 976.6L640.5 967.2L644.8 966.1L649.2 971.8L653.6 979.2L657.9 989.2L662.3 997L666.6 1002.9L671 1004.9L675.4 1007.1L679.7 1007.7L684.1 1007.4L688.5 1003.3L692.8 996.1L697.2 985.2L701.6 973.9L705.9 965.3L710.3 965L714.6 970.9L719 980L723.4 986L727.7 990.3L732.1 995.2L736.5 1000.9L740.8 1007.4L745.2 1012.7L749.5 1017.4L753.9 1020L758.3 1019.5L762.6 1016.6L767 1013.6L771.4 1012.3L775.7 1010L780.1 1003.7L784.4 995.9L788.8 991.6L793.2 993.9L797.5 1000L801.9 1007.5L806.3 1013.4L810.6 1013.5L815 1006.5L819.3 997.8L823.7 991.6L828.1 989.3L832.4 984L836.8 977.7L841.2 970.8L845.5 970.9L849.9 973.9L854.2 982.9L858.6 990.5L863 1001.2L867.3 1008.9L871.7 1016.3L876.1 1019.2L880.4 1020.4L884.8 1021.1L889.1 1021.9L893.5 1022.6L897.9 1021.7L902.2 1018.5L906.6 1010.3L911 997.3L915.3 982.4L919.7 972.6L924 971L928.4 974.7L932.8 983.3L937.1 994.2L941.5 1008.9L945.9 1018.7L950.2 1024L954.6 1023.6L958.9 1021.7L963.3 1018.7L967.7 1015.4L972 1009.9L976.4 999.4L980.8 983.9L985.1 970.1L989.5 962.3L993.8 961.7L998.2 965L1002.6 969L1006.9 970.8L1011.3 972.2L1015.7 975.8L1020 984.1L1024.4 991.2L1028.7 998.4L1033.1 1003.6L1037.5 1006.9L1041.8 1004.3L1046.2 998L1050.6 996.5L1054.9 998.9L1059.3 1003.1L1063.6 1002.1L1068 1001L1072.4 1000.7L1076.7 1002.6L1081.1 999.9L1085.5 995.5L1089.8 992.9L1094.2 998.9L1098.5 1007.9L1102.9 1014.7L1107.3 1016.5L1111.6 1017.8L1116 1018.4L1120.4 1015.1L1124.7 1011.3L1129.1 1009.3L1133.4 1014.8L1137.8 1017.6L1142.2 1013.5L1146.5 1001.6L1150.9 991.8L1155.3 989.8L1159.6 992L1164 990.4L1168.3 984.5L1172.7 976.3L1177.1 972.2L1181.4 973.3L1185.8 983.3L1190.2 996.2L1194.5 1009.1L1198.9 1013.8L1203.2 1014.8L1207.6 1010.4L1212 1008L1216.3 1005.6L1220.7 1004.5L1225.1 1001.8L1229.4 998.6L1233.8 997.9L1238.1 1001L1242.5 1007.2L1246.9 1010.5L1251.2 1011.6L1255.6 1010.4L1260 1015.2L1264.3 1019.7L1268.7 1021.8L1273 1015.9L1277.4 1007.4L1281.8 999.2L1286.1 993.6L1290.5 989.7L1294.9 989.1L1299.2 990.8L1303.6 992.3L1307.9 992.6L1312.3 987.2L1316.7 980.8L1321 973.2L1325.4 973.1L1329.8 979.2L1334.1 985.9L1338.5 986.1L1342.8 980.3L1347.2 975.2L1351.6 976.5L1355.9 981.5L1360.3 988.8L1364.7 994.2L1369 1000.9L1373.4 1007.8L1377.7 1012.4L1382.1 1012.6L1386.5 1010L1390.8 1011.5L1395.2 1009.2L1399.6 1000.9L1403.9 984.2L1408.3 973.4L1412.6 969.9L1417 970.6L1421.4 972.2L1425.7 973.2L1430.1 977.7L1434.5 983.6L1438.8 993.8L1443.2 1005.8L1447.5 1015L1451.9 1019.8L1456.3 1020.5L1460.6 1021.9L1465 1022.9L1469.4 1022.7L1473.7 1020.2L1478.1 1017.1L1482.5 1015.6L1486.8 1014.4L1491.2 1014.2L1495.5 1014.8L1499.9 1011.3L1504.3 1005.3L1508.6 995.8L1513 991.3L1517.4 984L1521.7 975.8L1526.1 971.2L1530.4 973.6L1534.8 978.8L1539.2 979.7L1543.5 980.7L1547.9 985.7L1552.3 994.6L1556.6 1003.9L1561 1011.4L1565.3 1014.5L1569.7 1013.8L1574.1 1012.1L1578.4 1014.4L1582.8 1017.9L1587.2 1020.8L1591.5 1021.1L1595.9 1022L1600.2 1023L1604.6 1023.4L1609 1021.6L1613.3 1012.7L1617.7 998.4L1622.1 980.2L1626.4 969L1630.8 963.6L1635.1 962.7L1639.5 963.7L1643.9 964.9L1648.2 966.8L1652.6 965.1L1657 962.9L1661.3 960.8L1665.7 961.3L1670 962.2L1674.4 963.2L1678.8 962.2L1683.1 962.1L1687.5 963.7L1691.9 967.6L1696.2 972.1L1700.6 976.3L1704.9 981.3L1709.3 987.2L1713.7 995L1718 1004.2L1722.4 1013.9L1726.8 1020.5L1731.1 1023.7L1735.5 1024.1L1739.8 1023.5L1744.2 1021.2L1748.6 1016.3L1752.9 1011L1757.3 1007.3L1761.7 1005.3L1766 1003L1770.4 997.6L1774.7 996.6L1779.1 998.6" stroke="#ff6d00" stroke-width="1" fill="none" stroke-linejoin="round"/>
<path d="M16.5 1071.1V1072.5M20.5 1066.7V1072.5M25.5 1062.5V1072.5M29.5 1061.7V1072.5M34.5 1062.3V1072.5M38.5 1063.8V1072.5M42.5 1064.9V1072.5M47.5 1066V1072.5M51.5 1068.7V1072.5M55.5 1071.4V1072.5M169.5 1059.1V1072.5M173.5 1054.3V1072.5M178.5 1057V1072.5M182.5 1065.5V1072.5M186.5 1070.4V1072.5M191.5 1071.8V1072.5M195.5 1068.3V1072.5M199.5 1062.9V1072.5M204.5 1061.7V1072.5M208.5 1063.9V1072.5M212.5 1067V1072.5M217.5 1069.1V1072.5M221.5 1070.9V1072.5M339.5 1072.1V1072.5M343.5 1067.4V1072.5M348.5 1063.7V1072.5M352.5 1065.2V1072.5M356.5 1068.8V1072.5M361.5 1069.9V1072.5M365.5 1066.7V1072.5M369.5 1065.2V1072.5M374.5 1066.6V1072.5M378.5 1071V1072.5M417.5 1066.5V1072.5M422.5 1054.1V1072.5M426.5 1043.9V1072.5M431.5 1043.8V1072.5M435.5 1050.7V1072.5M439.5 1059.3V1072.5M444.5 1065.7V1072.5M448.5 1071.2V1072.5M461.5 1070.6V1072.5M465.5 1066.3V1072.5M470.5 1065.5V1072.5M474.5 1070.9V1072.5M492.5 1069V1072.5M496.5 1063.4V1072.5M500.5 1062.4V1072.5M505.5 1062.8V1072.5M509.5 1063.9V1072.5M513.5 1062V1072.5M518.5 1059.6V1072.5M522.5 1050.5V1072.5M527.5 1043.8V1072.5M531.5 1040.5V1072.5M535.5 1044.6V1072.5M540.5 1050.7V1072.5M544.5 1054.5V1072.5M548.5 1058.1V1072.5M553.5 1060V1072.5M557.5 1062.4V1072.5M561.5 1065.4V1072.5M566.5 1067.9V1072.5M570.5 1070.4V1072.5M575.5 1071.8V1072.5M631.5 1067.6V1072.5M636.5 1051.3V1072.5M640.5 1046V1072.5M644.5 1043.1V1072.5M649.5 1051.4V1072.5M653.5 1059.3V1072.5M657.5 1068.3V1072.5M688.5 1069.4V1072.5M692.5 1062.3V1072.5M697.5 1054.2V1072.5M701.5 1045.6V1072.5M705.5 1041.7V1072.5M710.5 1044.8V1072.5M714.5 1051.3V1072.5M719.5 1056.9V1072.5M723.5 1059.1V1072.5M727.5 1061.9V1072.5M732.5 1066V1072.5M736.5 1067.9V1072.5M740.5 1068.4V1072.5M745.5 1069.5V1072.5M749.5 1071.9V1072.5M758.5 1071.7V1072.5M762.5 1068V1072.5M766.5 1064.8V1072.5M771.5 1066.5V1072.5M775.5 1062.9V1072.5M780.5 1058.6V1072.5M784.5 1055.2V1072.5M788.5 1059.5V1072.5M793.5 1063.3V1072.5M797.5 1069.6V1072.5M814.5 1070.2V1072.5M819.5 1065.2V1072.5M823.5 1063.1V1072.5M828.5 1062.1V1072.5M832.5 1055V1072.5M836.5 1048.9V1072.5M841.5 1047.3V1072.5M845.5 1052.4V1072.5M849.5 1058.3V1072.5M854.5 1063.3V1072.5M858.5 1067.1V1072.5M910.5 1066.6V1072.5M915.5 1060.7V1072.5M919.5 1058.9V1072.5M924.5 1060.4V1072.5M928.5 1061.9V1072.5M932.5 1066.9V1072.5M980.5 1067.9V1072.5M985.5 1062.4V1072.5M989.5 1058.3V1072.5M993.5 1056.3V1072.5M998.5 1056.5V1072.5M1002.5 1058.8V1072.5M1006.5 1059.2V1072.5M1011.5 1061.7V1072.5M1015.5 1066.1V1072.5M1020.5 1072.2V1072.5M1041.5 1071.2V1072.5M1046.5 1068.8V1072.5M1050.5 1071.7V1072.5M1063.5 1069.9V1072.5M1068.5 1068.7V1072.5M1072.5 1069.5V1072.5M1076.5 1070.7V1072.5M1081.5 1067.8V1072.5M1085.5 1064.1V1072.5M1089.5 1065.8V1072.5M1168.5 1072.1V1072.5M1172.5 1067.3V1072.5M1177.5 1064.3V1072.5M1181.5 1067.4V1072.5M1316.5 1062.5V1072.5M1321.5 1054.4V1072.5M1325.5 1059.5V1072.5M1338.5 1069.2V1072.5M1342.5 1063.1V1072.5M1347.5 1060.2V1072.5M1351.5 1068.4V1072.5M1399.5 1071.6V1072.5M1403.5 1062.9V1072.5M1408.5 1060.8V1072.5M1412.5 1062.2V1072.5M1417.5 1060.9V1072.5M1421.5 1062.1V1072.5M1425.5 1064V1072.5M1430.5 1067.7V1072.5M1622.5 1071V1072.5M1626.5 1067.6V1072.5M1630.5 1065.7V1072.5M1635.5 1063V1072.5M1639.5 1064.6V1072.5M1643.5 1066.3V1072.5M1648.5 1068.1V1072.5M1652.5 1065.4V1072.5M1656.5 1056.5V1072.5M1661.5 1047.3V1072.5M1665.5 1043.7V1072.5M1670.5 1046.3V1072.5M1674.5 1050.1V1072.5M1678.5 1050.1V1072.5M1683.5 1051.7V1072.5M1687.5 1054.7V1072.5M1691.5 1058V1072.5M1696.5 1060.8V1072.5M1700.5 1063.5V1072.5M1704.5 1066.1V1072.5M1709.5 1069.5V1072.5M1713.5 1071.3V1072.5M1770.5 1071.6V1072.5" stroke="#4caf50" stroke-width="1" fill="none"/>
<path d="M7.5 1072.5V1080.7M12.5 1072.5V1076.1M60.5 1072.5V1075.8M64.5 1072.5V1082.9M68.5 1072.5V1091.4M73.5 1072.5V1096.4M77.5 1072.5V1096.7M82.5 1072.5V1094.9M86.5 1072.5V1094M90.5 1072.5V1092.8M95.5 1072.5V1091.6M99.5 1072.5V1090.6M103.5 1072.5V1088.7M108.5 1072.5V1086.2M112.5 1072.5V1083.9M116.5 1072.5V1083.3M121.5 1072.5V1082.9M125.5 1072.5V1082.7M130.5 1072.5V1081.8M134.5 1072.5V1080.5M138.5 1072.5V1080.5M143.5 1072.5V1083.2M147.5 1072.5V1088.3M151.5 1072.5V1094.7M156.5 1072.5V1096.8M160.5 1072.5V1090.3M164.5 1072.5V1075.5M226.5 1072.5V1075.2M230.5 1072.5V1077.5M234.5 1072.5V1081.6M239.5 1072.5V1085M243.5 1072.5V1090.7M247.5 1072.5V1094.8M252.5 1072.5V1092.1M256.5 1072.5V1086.4M260.5 1072.5V1079.9M265.5 1072.5V1078.3M269.5 1072.5V1078.3M274.5 1072.5V1081.7M278.5 1072.5V1087.2M282.5 1072.5V1091M287.5 1072.5V1094.9M291.5 1072.5V1096.9M295.5 1072.5V1097.7M300.5 1072.5V1095M304.5 1072.5V1091.6M308.5 1072.5V1089.9M313.5 1072.5V1088.2M317.5 1072.5V1086.3M322.5 1072.5V1085.4M326.5 1072.5V1084.4M330.5 1072.5V1081.1M335.5 1072.5V1077.3M383.5 1072.5V1075.3M387.5 1072.5V1085.5M391.5 1072.5V1092.9M396.5 1072.5V1096.2M400.5 1072.5V1092.8M404.5 1072.5V1086.9M409.5 1072.5V1081.7M413.5 1072.5V1075.4M452.5 1072.5V1074.5M457.5 1072.5V1074.1M479.5 1072.5V1078.1M483.5 1072.5V1081M487.5 1072.5V1076.5M579.5 1072.5V1077.4M583.5 1072.5V1086.4M588.5 1072.5V1094.6M592.5 1072.5V1096.5M596.5 1072.5V1092.1M601.5 1072.5V1084.7M605.5 1072.5V1079.4M609.5 1072.5V1076.4M614.5 1072.5V1080.4M618.5 1072.5V1087.5M623.5 1072.5V1089.8M627.5 1072.5V1080.8M662.5 1072.5V1072.8M666.5 1072.5V1075M671.5 1072.5V1075.6M675.5 1072.5V1077.9M679.5 1072.5V1077.3M684.5 1072.5V1074.9M753.5 1072.5V1074.8M801.5 1072.5V1075.4M806.5 1072.5V1080.3M810.5 1072.5V1077.6M862.5 1072.5V1072.9M867.5 1072.5V1079.8M871.5 1072.5V1083.6M876.5 1072.5V1085.1M880.5 1072.5V1083.8M884.5 1072.5V1084.4M889.5 1072.5V1084.7M893.5 1072.5V1084.9M897.5 1072.5V1083.9M902.5 1072.5V1080.7M906.5 1072.5V1074M937.5 1072.5V1073.7M941.5 1072.5V1084.1M945.5 1072.5V1090.8M950.5 1072.5V1095.8M954.5 1072.5V1096.4M958.5 1072.5V1094.1M963.5 1072.5V1089.7M967.5 1072.5V1085.5M972.5 1072.5V1081.6M976.5 1072.5V1074.9M1024.5 1072.5V1075.8M1028.5 1072.5V1078.9M1033.5 1072.5V1080.6M1037.5 1072.5V1076.7M1054.5 1072.5V1074.7M1059.5 1072.5V1072.6M1094.5 1072.5V1075.9M1098.5 1072.5V1085.6M1102.5 1072.5V1089.2M1107.5 1072.5V1088.6M1111.5 1072.5V1088.9M1115.5 1072.5V1087.5M1120.5 1072.5V1081.3M1124.5 1072.5V1083.8M1129.5 1072.5V1090.1M1133.5 1072.5V1097.5M1137.5 1072.5V1093.8M1142.5 1072.5V1086.1M1146.5 1072.5V1078.7M1150.5 1072.5V1078.3M1155.5 1072.5V1079M1159.5 1072.5V1080M1163.5 1072.5V1076.1M1185.5 1072.5V1077.7M1190.5 1072.5V1087.3M1194.5 1072.5V1091.9M1198.5 1072.5V1090M1203.5 1072.5V1087.1M1207.5 1072.5V1083.5M1211.5 1072.5V1081.8M1216.5 1072.5V1080.9M1220.5 1072.5V1080.1M1225.5 1072.5V1078.7M1229.5 1072.5V1077.8M1233.5 1072.5V1077.5M1238.5 1072.5V1084.6M1242.5 1072.5V1095.5M1246.5 1072.5V1098.7M1251.5 1072.5V1099.7M1255.5 1072.5V1096.7M1259.5 1072.5V1101.5M1264.5 1072.5V1101.5M1268.5 1072.5V1098.2M1273.5 1072.5V1092.8M1277.5 1072.5V1087.1M1281.5 1072.5V1083.4M1286.5 1072.5V1082M1290.5 1072.5V1082M1294.5 1072.5V1082.4M1299.5 1072.5V1084.1M1303.5 1072.5V1082M1307.5 1072.5V1084.2M1312.5 1072.5V1075.1M1329.5 1072.5V1073.4M1334.5 1072.5V1076.9M1355.5 1072.5V1076.7M1360.5 1072.5V1084.4M1364.5 1072.5V1089.8M1369.5 1072.5V1091.4M1373.5 1072.5V1091.4M1377.5 1072.5V1087.8M1382.5 1072.5V1084.3M1386.5 1072.5V1082.9M1390.5 1072.5V1085.6M1395.5 1072.5V1081M1434.5 1072.5V1073.5M1438.5 1072.5V1080.6M1443.5 1072.5V1089.1M1447.5 1072.5V1091.2M1451.5 1072.5V1092M1456.5 1072.5V1089.9M1460.5 1072.5V1089M1464.5 1072.5V1088.1M1469.5 1072.5V1086.7M1473.5 1072.5V1085.3M1478.5 1072.5V1084.1M1482.5 1072.5V1083.8M1486.5 1072.5V1084.1M1491.5 1072.5V1085.5M1495.5 1072.5V1087.9M1499.5 1072.5V1087.5M1504.5 1072.5V1088.8M1508.5 1072.5V1090.4M1512.5 1072.5V1090M1517.5 1072.5V1082.5M1521.5 1072.5V1074.1M1526.5 1072.5V1075.9M1530.5 1072.5V1080.5M1534.5 1072.5V1082.4M1539.5 1072.5V1081.2M1543.5 1072.5V1086M1547.5 1072.5V1092.5M1552.5 1072.5V1096.8M1556.5 1072.5V1097.3M1560.5 1072.5V1095.6M1565.5 1072.5V1091.8M1569.5 1072.5V1087.6M1574.5 1072.5V1086.6M1578.5 1072.5V1088.1M1582.5 1072.5V1088.6M1587.5 1072.5V1088.5M1591.5 1072.5V1088.6M1595.5 1072.5V1089.6M1600.5 1072.5V1090.1M1604.5 1072.5V1089.4M1608.5 1072.5V1087.5M1613.5 1072.5V1082.5M1617.5 1072.5V1076.3M1718.5 1072.5V1073.9M1722.5 1072.5V1076M1726.5 1072.5V1082M1731.5 1072.5V1087.2M1735.5 1072.5V1090.7M1739.5 1072.5V1089.3M1744.5 1072.5V1086.4M1748.5 1072.5V1081.4M1752.5 1072.5V1079.1M1757.5 1072.5V1078M1761.5 1072.5V1078.3M1766.5 1072.5V1075.5M1774.5 1072.5V1073.5M1779.5 1072.5V1078.1" stroke="#f23645" stroke-width="1" fill="none"/>
<path d="M7.9 1080.7L12.3 1076.1L16.6 1071.1L21 1066.7L25.4 1062.5L29.7 1061.7L34.1 1062.3L38.4 1063.8L42.8 1064.9L47.2 1066L51.5 1068.7L55.9 1071.4L60.3 1075.8L64.6 1082.9L69 1091.4L73.3 1096.4L77.7 1096.7L82.1 1094.9L86.4 1094L90.8 1092.8L95.2 1091.6L99.5 1090.6L103.9 1088.7L108.2 1086.2L112.6 1083.9L117 1083.3L121.3 1082.9L125.7 1082.7L130.1 1081.8L134.4 1080.5L138.8 1080.5L143.1 1083.2L147.5 1088.3L151.9 1094.7L156.2 1096.8L160.6 1090.3L165 1075.5L169.3 1059.1L173.7 1054.3L178 1057L182.4 1065.5L186.8 1070.4L191.1 1071.8L195.5 1068.3L199.9 1062.9L204.2 1061.7L208.6 1063.9L212.9 1067L217.3 1069.1L221.7 1070.9L226 1075.2L230.4 1077.5L234.8 1081.6L239.1 1085L243.5 1090.7L247.8 1094.8L252.2 1092.1L256.6 1086.4L260.9 1079.9L265.3 1078.3L269.7 1078.3L274 1081.7L278.4 1087.2L282.7 1091L287.1 1094.9L291.5 1096.9L295.8 1097.7L300.2 1095L304.6 1091.6L308.9 1089.9L313.3 1088.2L317.6 1086.3L322 1085.4L326.4 1084.4L330.7 1081.1L335.1 1077.3L339.5 1072.1L343.8 1067.4L348.2 1063.7L352.5 1065.2L356.9 1068.8L361.3 1069.9L365.6 1066.7L370 1065.2L374.4 1066.6L378.7 1071L383.1 1075.3L387.4 1085.5L391.8 1092.9L396.2 1096.2L400.5 1092.8L404.9 1086.9L409.3 1081.7L413.6 1075.4L418 1066.5L422.3 1054.1L426.7 1043.9L431.1 1043.8L435.4 1050.7L439.8 1059.3L444.2 1065.7L448.5 1071.2L452.9 1074.5L457.2 1074.1L461.6 1070.6L466 1066.3L470.3 1065.5L474.7 1070.9L479.1 1078.1L483.4 1081L487.8 1076.5L492.1 1069L496.5 1063.4L500.9 1062.4L505.2 1062.8L509.6 1063.9L514 1062L518.3 1059.6L522.7 1050.5L527 1043.8L531.4 1040.5L535.8 1044.6L540.1 1050.7L544.5 1054.5L548.9 1058.1L553.2 1060L557.6 1062.4L561.9 1065.4L566.3 1067.9L570.7 1070.4L575 1071.8L579.4 1077.4L583.8 1086.4L588.1 1094.6L592.5 1096.5L596.8 1092.1L601.2 1084.7L605.6 1079.4L609.9 1076.4L614.3 1080.4L618.7 1087.5L623 1089.8L627.4 1080.8L631.7 1067.6L636.1 1051.3L640.5 1046L644.8 1043.1L649.2 1051.4L653.6 1059.3L657.9 1068.3L662.3 1072.8L666.6 1075L671 1075.6L675.4 1077.9L679.7 1077.3L684.1 1074.9L688.5 1069.4L692.8 1062.3L697.2 1054.2L701.6 1045.6L705.9 1041.7L710.3 1044.8L714.6 1051.3L719 1056.9L723.4 1059.1L727.7 1061.9L732.1 1066L736.5 1067.9L740.8 1068.4L745.2 1069.5L749.5 1071.9L753.9 1074.8L758.3 1071.7L762.6 1068L767 1064.8L771.4 1066.5L775.7 1062.9L780.1 1058.6L784.4 1055.2L788.8 1059.5L793.2 1063.3L797.5 1069.6L801.9 1075.4L806.3 1080.3L810.6 1077.6L815 1070.2L819.3 1065.2L823.7 1063.1L828.1 1062.1L832.4 1055L836.8 1048.9L841.2 1047.3L845.5 1052.4L849.9 1058.3L854.2 1063.3L858.6 1067.1L863 1072.9L867.3 1079.8L871.7 1083.6L876.1 1085.1L880.4 1083.8L884.8 1084.4L889.1 1084.7L893.5 1084.9L897.9 1083.9L902.2 1080.7L906.6 1074L911 1066.6L915.3 1060.7L919.7 1058.9L924 1060.4L928.4 1061.9L932.8 1066.9L937.1 1073.7L941.5 1084.1L945.9 1090.8L950.2 1095.8L954.6 1096.4L958.9 1094.1L963.3 1089.7L967.7 1085.5L972 1081.6L976.4 1074.9L980.8 1067.9L985.1 1062.4L989.5 1058.3L993.8 1056.3L998.2 1056.5L1002.6 1058.8L1006.9 1059.2L1011.3 1061.7L1015.7 1066.1L1020 1072.2L1024.4 1075.8L1028.7 1078.9L1033.1 1080.6L1037.5 1076.7L1041.8 1071.2L1046.2 1068.8L1050.6 1071.7L1054.9 1074.7L1059.3 1072.6L1063.6 1069.9L1068 1068.7L1072.4 1069.5L1076.7 1070.7L1081.1 1067.8L1085.5 1064.1L1089.8 1065.8L1094.2 1075.9L1098.5 1085.6L1102.9 1089.2L1107.3 1088.6L1111.6 1088.9L1116 1087.5L1120.4 1081.3L1124.7 1083.8L1129.1 1090.1L1133.4 1097.5L1137.8 1093.8L1142.2 1086.1L1146.5 1078.7L1150.9 1078.3L1155.3 1079L1159.6 1080L1164 1076.1L1168.3 1072.1L1172.7 1067.3L1177.1 1064.3L1181.4 1067.4L1185.8 1077.7L1190.2 1087.3L1194.5 1091.9L1198.9 1090L1203.2 1087.1L1207.6 1083.5L1212 1081.8L1216.3 1080.9L1220.7 1080.1L1225.1 1078.7L1229.4 1077.8L1233.8 1077.5L1238.1 1084.6L1242.5 1095.5L1246.9 1098.7L1251.2 1099.7L1255.6 1096.7L1260 1101.5L1264.3 1101.5L1268.7 1098.2L1273 1092.8L1277.4 1087.1L1281.8 1083.4L1286.1 1082L1290.5 1082L1294.9 1082.4L1299.2 1084.1L1303.6 1082L1307.9 1084.2L1312.3 1075.1L1316.7 1062.5L1321 1054.4L1325.4 1059.5L1329.8 1073.4L1334.1 1076.9L1338.5 1069.2L1342.8 1063.1L1347.2 1060.2L1351.6 1068.4L1355.9 1076.7L1360.3 1084.4L1364.7 1089.8L1369 1091.4L1373.4 1091.4L1377.7 1087.8L1382.1 1084.3L1386.5 1082.9L1390.8 1085.6L1395.2 1081L1399.6 1071.6L1403.9 1062.9L1408.3 1060.8L1412.6 1062.2L1417 1060.9L1421.4 1062.1L1425.7 1064L1430.1 1067.7L1434.5 1073.5L1438.8 1080.6L1443.2 1089.1L1447.5 1091.2L1451.9 1092L1456.3 1089.9L1460.6 1089L1465 1088.1L1469.4 1086.7L1473.7 1085.3L1478.1 1084.1L1482.5 1083.8L1486.8 1084.1L1491.2 1085.5L1495.5 1087.9L1499.9 1087.5L1504.3 1088.8L1508.6 1090.4L1513 1090L1517.4 1082.5L1521.7 1074.1L1526.1 1075.9L1530.4 1080.5L1534.8 1082.4L1539.2 1081.2L1543.5 1086L1547.9 1092.5L1552.3 1096.8L1556.6 1097.3L1561 1095.6L1565.3 1091.8L1569.7 1087.6L1574.1 1086.6L1578.4 1088.1L1582.8 1088.6L1587.2 1088.5L1591.5 1088.6L1595.9 1089.6L1600.2 1090.1L1604.6 1089.4L1609 1087.5L1613.3 1082.5L1617.7 1076.3L1622.1 1071L1626.4 1067.6L1630.8 1065.7L1635.1 1063L1639.5 1064.6L1643.9 1066.3L1648.2 1068.1L1652.6 1065.4L1657 1056.5L1661.3 1047.3L1665.7 1043.7L1670 1046.3L1674.4 1050.1L1678.8 1050.1L1683.1 1051.7L1687.5 1054.7L1691.9 1058L1696.2 1060.8L1700.6 1063.5L1704.9 1066.1L1709.3 1069.5L1713.7 1071.3L1718 1073.9L1722.4 1076L1726.8 1082L1731.1 1087.2L1735.5 1090.7L1739.8 1089.3L1744.2 1086.4L1748.6 1081.4L1752.9 1079.1L1757.3 1078L1761.7 1078.3L1766 1075.5L1770.4 1071.6L1774.7 1073.5L1779.1 1078.1" stroke="#5b6be0" stroke-width="1" fill="none" stroke-linejoin="round"/>
<path d="M10 1072.5H1921" stroke="#8e24aa" stroke-width="1.5" fill="none"/>
<path d="M15 1133.3h3v1.4h-3zM19 1133.3h3v1.4h-3zM24 1133.3h3v1.4h-3zM159 1133.3h3v1.4h-3zM163 1131.9h3v2.8h-3zM168 1130.5h3v4.2h-3zM172 1130.1h3v4.6h-3zM185 1130.2h3v4.6h-3zM190 1129.8h3v4.9h-3zM194 1129.4h3v5.3h-3zM198 1129.3h3v5.5h-3zM251 1133.3h3v1.4h-3zM255 1133.3h3v1.4h-3zM259 1133.3h3v1.4h-3zM264 1133.3h3v1.4h-3zM268 1133.3h3v1.4h-3zM334 1133.3h3v1.4h-3zM338 1133.2h3v1.6h-3zM342 1132.3h3v2.5h-3zM347 1131.9h3v2.8h-3zM351 1131.9h3v2.8h-3zM395 1133.3h3v1.4h-3zM399 1133.3h3v1.4h-3zM403 1133.1h3v1.6h-3zM408 1132.3h3v2.5h-3zM412 1131.2h3v3.6h-3zM416 1129.9h3v4.8h-3zM421 1128.8h3v5.9h-3zM425 1128.2h3v6.5h-3zM456 1133.2h3v1.6h-3zM460 1133.1h3v1.7h-3zM482 1133.3h3v1.4h-3zM486 1133.3h3v1.4h-3zM491 1133.3h3v1.4h-3zM495 1133.3h3v1.4h-3zM499 1133.3h3v1.4h-3zM504 1133.3h3v1.4h-3zM508 1133.3h3v1.4h-3zM512 1133.3h3v1.4h-3zM517 1133.1h3v1.7h-3zM521 1132h3v2.8h-3zM526 1130.8h3v4h-3zM530 1130.1h3v4.7h-3zM534 1129.9h3v4.8h-3zM630 1133.3h3v1.4h-3zM635 1132.2h3v2.6h-3zM639 1131.4h3v3.4h-3zM687 1133.3h3v1.4h-3zM691 1131.7h3v3h-3zM696 1129.3h3v5.5h-3zM700 1126.7h3v8h-3zM704 1125.5h3v9.2h-3zM831 1133.3h3v1.4h-3zM835 1133.3h3v1.4h-3zM840 1133.3h3v1.4h-3zM975 1133.3h3v1.4h-3zM979 1133.3h3v1.4h-3zM984 1132.6h3v2.2h-3zM988 1131.9h3v2.9h-3zM992 1131.4h3v3.4h-3zM997 1131.1h3v3.7h-3zM1001 1131h3v3.8h-3zM1032 1133.3h3v1.4h-3zM1036 1133.3h3v1.4h-3zM1040 1133.3h3v1.4h-3zM1045 1133.3h3v1.4h-3zM1162 1133.3h3v1.4h-3zM1167 1133.3h3v1.4h-3zM1171 1133.3h3v1.4h-3zM1311 1133.3h3v1.4h-3zM1315 1133.3h3v1.4h-3zM1320 1133.3h3v1.4h-3zM1337 1133.3h3v1.4h-3zM1341 1133.3h3v1.4h-3zM1346 1133.3h3v1.4h-3zM1394 1133.3h3v1.4h-3zM1398 1133.3h3v1.4h-3zM1402 1133.3h3v1.4h-3zM1407 1133.3h3v1.4h-3zM1411 1133.3h3v1.4h-3zM1516 1133.3h3v1.4h-3zM1520 1133.3h3v1.4h-3zM1525 1133.3h3v1.4h-3zM1616 1133.3h3v1.4h-3zM1621 1132.2h3v2.6h-3zM1625 1131.3h3v3.4h-3zM1629 1131h3v3.8h-3zM1634 1130.9h3v3.8h-3zM1647 1130.6h3v4.1h-3zM1651 1129.4h3v5.4h-3zM1655 1127.7h3v7h-3zM1660 1126.4h3v8.3h-3zM1664 1125.6h3v9.1h-3zM1669 1125.1h3v9.7h-3zM1673 1124.8h3v10h-3zM1677 1124.7h3v10h-3z" fill="#26a69a"/>
<path d="M28 1133.3h3v1.4h-3zM33 1133.3h3v1.4h-3zM37 1133.3h3v1.4h-3zM41 1133.3h3v1.4h-3zM177 1130.2h3v4.5h-3zM181 1130.3h3v4.4h-3zM203 1129.3h3v5.4h-3zM207 1129.5h3v5.2h-3zM211 1129.8h3v5h-3zM216 1130.1h3v4.6h-3zM220 1130.5h3v4.2h-3zM225 1131h3v3.7h-3zM229 1131.8h3v2.9h-3zM233 1132.8h3v2h-3zM238 1133.3h3v1.4h-3zM242 1133.3h3v1.4h-3zM273 1133.3h3v1.4h-3zM355 1132h3v2.8h-3zM360 1132h3v2.7h-3zM364 1132.1h3v2.7h-3zM368 1132.2h3v2.6h-3zM373 1132.3h3v2.4h-3zM377 1132.7h3v2.1h-3zM382 1133.1h3v1.7h-3zM386 1133.3h3v1.4h-3zM390 1133.3h3v1.4h-3zM430 1128.3h3v6.5h-3zM434 1129h3v5.8h-3zM438 1130.3h3v4.4h-3zM443 1131.8h3v2.9h-3zM447 1132.8h3v1.9h-3zM451 1133.2h3v1.5h-3zM464 1133.2h3v1.5h-3zM469 1133.3h3v1.4h-3zM473 1133.3h3v1.4h-3zM478 1133.3h3v1.4h-3zM539 1130.2h3v4.5h-3zM543 1130.7h3v4.1h-3zM547 1131.4h3v3.3h-3zM552 1132.2h3v2.5h-3zM556 1133.1h3v1.6h-3zM560 1133.3h3v1.4h-3zM643 1131.6h3v3.2h-3zM648 1132.5h3v2.2h-3zM652 1133.3h3v1.4h-3zM709 1126.1h3v8.7h-3zM713 1127h3v7.7h-3zM718 1127.9h3v6.8h-3zM722 1129.4h3v5.3h-3zM726 1131.3h3v3.4h-3zM731 1133.2h3v1.5h-3zM844 1133.3h3v1.4h-3zM848 1133.3h3v1.4h-3zM1005 1131.5h3v3.3h-3zM1010 1132.5h3v2.3h-3zM1014 1133.3h3v1.4h-3zM1019 1133.3h3v1.4h-3zM1023 1133.3h3v1.4h-3zM1027 1133.3h3v1.4h-3zM1049 1133.3h3v1.4h-3zM1053 1133.3h3v1.4h-3zM1058 1133.3h3v1.4h-3zM1062 1133.3h3v1.4h-3zM1176 1133.3h3v1.4h-3zM1180 1133.3h3v1.4h-3zM1324 1133.3h3v1.4h-3zM1328 1133.3h3v1.4h-3zM1333 1133.3h3v1.4h-3zM1350 1133.3h3v1.4h-3zM1354 1133.3h3v1.4h-3zM1359 1133.3h3v1.4h-3zM1416 1133.3h3v1.4h-3zM1420 1133.3h3v1.4h-3zM1424 1133.3h3v1.4h-3zM1429 1133.3h3v1.4h-3zM1529 1133.3h3v1.4h-3zM1533 1133.3h3v1.4h-3zM1538 1133.3h3v1.4h-3zM1638 1131h3v3.7h-3zM1642 1131.1h3v3.7h-3zM1682 1125.1h3v9.6h-3zM1686 1125.9h3v8.8h-3zM1690 1127.2h3v7.6h-3zM1695 1128.7h3v6h-3zM1699 1130.3h3v4.5h-3zM1703 1131.7h3v3.1h-3zM1708 1132.9h3v1.8h-3zM1712 1133.3h3v1.4h-3z" fill="#b2dfdb"/>
<path d="M11 1133.8h3v1.4h-3zM46 1133.8h3v1.4h-3zM50 1133.8h3v1.4h-3zM54 1133.8h3v1.4h-3zM59 1133.8h3v1.9h-3zM63 1133.8h3v2.6h-3zM67 1133.8h3v3.4h-3zM72 1133.8h3v4.4h-3zM76 1133.8h3v5.5h-3zM81 1133.8h3v6.5h-3zM85 1133.8h3v7.6h-3zM89 1133.8h3v8.7h-3zM94 1133.8h3v9.5h-3zM98 1133.8h3v9.9h-3zM246 1133.8h3v1.4h-3zM277 1133.8h3v1.4h-3zM281 1133.8h3v1.4h-3zM286 1133.8h3v2.1h-3zM290 1133.8h3v3h-3zM294 1133.8h3v3.7h-3zM299 1133.8h3v4.3h-3zM303 1133.8h3v4.7h-3zM307 1133.8h3v4.9h-3zM565 1133.8h3v1.4h-3zM569 1133.8h3v1.4h-3zM574 1133.8h3v2h-3zM578 1133.8h3v2.5h-3zM582 1133.8h3v3h-3zM587 1133.8h3v3.2h-3zM604 1133.8h3v2.5h-3zM608 1133.8h3v2.8h-3zM613 1133.8h3v3.1h-3zM656 1133.8h3v1.4h-3zM661 1133.8h3v1.4h-3zM665 1133.8h3v1.6h-3zM670 1133.8h3v2h-3zM735 1133.8h3v1.4h-3zM739 1133.8h3v1.4h-3zM744 1133.8h3v1.8h-3zM748 1133.8h3v2.2h-3zM752 1133.8h3v2.3h-3zM783 1133.8h3v1.4h-3zM787 1133.8h3v1.4h-3zM792 1133.8h3v1.8h-3zM796 1133.8h3v2.6h-3zM800 1133.8h3v3.2h-3zM853 1133.8h3v1.4h-3zM857 1133.8h3v1.4h-3zM861 1133.8h3v2.1h-3zM866 1133.8h3v2.7h-3zM870 1133.8h3v3h-3zM875 1133.8h3v3h-3zM923 1133.8h3v1.4h-3zM927 1133.8h3v1.4h-3zM931 1133.8h3v1.4h-3zM936 1133.8h3v1.4h-3zM940 1133.8h3v2.2h-3zM944 1133.8h3v3h-3zM949 1133.8h3v3.6h-3zM953 1133.8h3v4h-3zM957 1133.8h3v4.1h-3zM1067 1133.8h3v1.4h-3zM1071 1133.8h3v1.4h-3zM1084 1133.8h3v1.4h-3zM1088 1133.8h3v1.4h-3zM1093 1133.8h3v1.4h-3zM1097 1133.8h3v1.4h-3zM1101 1133.8h3v1.4h-3zM1106 1133.8h3v1.4h-3zM1110 1133.8h3v1.4h-3zM1114 1133.8h3v1.4h-3zM1119 1133.8h3v1.4h-3zM1123 1133.8h3v1.6h-3zM1128 1133.8h3v1.8h-3zM1132 1133.8h3v1.9h-3zM1184 1133.8h3v1.4h-3zM1189 1133.8h3v1.4h-3zM1193 1133.8h3v1.4h-3zM1241 1133.8h3v1.4h-3zM1245 1133.8h3v1.4h-3zM1250 1133.8h3v1.4h-3zM1254 1133.8h3v1.4h-3zM1258 1133.8h3v1.7h-3zM1263 1133.8h3v1.9h-3zM1363 1133.8h3v1.4h-3zM1368 1133.8h3v1.4h-3zM1372 1133.8h3v1.4h-3zM1376 1133.8h3v1.4h-3zM1433 1133.8h3v1.4h-3zM1437 1133.8h3v1.4h-3zM1442 1133.8h3v1.5h-3zM1446 1133.8h3v1.8h-3zM1450 1133.8h3v2.1h-3zM1455 1133.8h3v2.3h-3zM1459 1133.8h3v2.5h-3zM1463 1133.8h3v2.6h-3zM1542 1133.8h3v1.4h-3zM1546 1133.8h3v1.4h-3zM1551 1133.8h3v1.4h-3zM1555 1133.8h3v1.8h-3zM1559 1133.8h3v2.2h-3zM1564 1133.8h3v2.6h-3zM1568 1133.8h3v3h-3zM1573 1133.8h3v3.3h-3zM1577 1133.8h3v3.7h-3zM1581 1133.8h3v4h-3zM1586 1133.8h3v4.3h-3zM1590 1133.8h3v4.6h-3zM1594 1133.8h3v4.9h-3zM1717 1133.8h3v1.4h-3zM1721 1133.8h3v1.4h-3zM1725 1133.8h3v1.7h-3zM1730 1133.8h3v2.2h-3zM1734 1133.8h3v2.5h-3zM1738 1133.8h3v2.5h-3z" fill="#ef5350"/>
<path d="M102 1133.8h3v9.7h-3zM107 1133.8h3v9.1h-3zM111 1133.8h3v8.6h-3zM115 1133.8h3v7.9h-3zM120 1133.8h3v7.2h-3zM124 1133.8h3v6.3h-3zM129 1133.8h3v5.3h-3zM133 1133.8h3v4.2h-3zM137 1133.8h3v3.4h-3zM142 1133.8h3v2.9h-3zM146 1133.8h3v2.6h-3zM150 1133.8h3v2.2h-3zM155 1133.8h3v1.4h-3zM312 1133.8h3v4.9h-3zM316 1133.8h3v4.6h-3zM321 1133.8h3v4h-3zM325 1133.8h3v3h-3zM329 1133.8h3v1.4h-3zM591 1133.8h3v3h-3zM595 1133.8h3v2.7h-3zM600 1133.8h3v2.5h-3zM617 1133.8h3v3.1h-3zM622 1133.8h3v2.2h-3zM626 1133.8h3v1.4h-3zM674 1133.8h3v2h-3zM678 1133.8h3v1.4h-3zM683 1133.8h3v1.4h-3zM757 1133.8h3v2.3h-3zM761 1133.8h3v2.2h-3zM765 1133.8h3v2h-3zM770 1133.8h3v1.6h-3zM774 1133.8h3v1.4h-3zM779 1133.8h3v1.4h-3zM805 1133.8h3v3.2h-3zM809 1133.8h3v2.9h-3zM813 1133.8h3v2.4h-3zM818 1133.8h3v1.8h-3zM822 1133.8h3v1.4h-3zM827 1133.8h3v1.4h-3zM879 1133.8h3v3h-3zM883 1133.8h3v2.9h-3zM888 1133.8h3v2.8h-3zM892 1133.8h3v2.7h-3zM896 1133.8h3v2.5h-3zM901 1133.8h3v2.1h-3zM905 1133.8h3v1.5h-3zM909 1133.8h3v1.4h-3zM914 1133.8h3v1.4h-3zM918 1133.8h3v1.4h-3zM962 1133.8h3v4h-3zM966 1133.8h3v3h-3zM971 1133.8h3v1.5h-3zM1075 1133.8h3v1.4h-3zM1080 1133.8h3v1.4h-3zM1136 1133.8h3v1.7h-3zM1141 1133.8h3v1.4h-3zM1145 1133.8h3v1.4h-3zM1149 1133.8h3v1.4h-3zM1154 1133.8h3v1.4h-3zM1158 1133.8h3v1.4h-3zM1197 1133.8h3v1.4h-3zM1202 1133.8h3v1.4h-3zM1206 1133.8h3v1.4h-3zM1210 1133.8h3v1.4h-3zM1215 1133.8h3v1.4h-3zM1219 1133.8h3v1.4h-3zM1224 1133.8h3v1.4h-3zM1228 1133.8h3v1.4h-3zM1232 1133.8h3v1.4h-3zM1237 1133.8h3v1.4h-3zM1267 1133.8h3v1.9h-3zM1272 1133.8h3v1.6h-3zM1276 1133.8h3v1.4h-3zM1280 1133.8h3v1.4h-3zM1285 1133.8h3v1.4h-3zM1289 1133.8h3v1.4h-3zM1293 1133.8h3v1.4h-3zM1298 1133.8h3v1.4h-3zM1302 1133.8h3v1.4h-3zM1306 1133.8h3v1.4h-3zM1381 1133.8h3v1.4h-3zM1385 1133.8h3v1.4h-3zM1389 1133.8h3v1.4h-3zM1468 1133.8h3v2.6h-3zM1472 1133.8h3v2.5h-3zM1477 1133.8h3v2.4h-3zM1481 1133.8h3v2.3h-3zM1485 1133.8h3v2.2h-3zM1490 1133.8h3v2.1h-3zM1494 1133.8h3v2.1h-3zM1498 1133.8h3v2h-3zM1503 1133.8h3v1.8h-3zM1507 1133.8h3v1.4h-3zM1511 1133.8h3v1.4h-3zM1599 1133.8h3v4.8h-3zM1603 1133.8h3v4.2h-3zM1607 1133.8h3v2.8h-3zM1612 1133.8h3v1.4h-3zM1743 1133.8h3v2.3h-3zM1747 1133.8h3v2h-3zM1751 1133.8h3v1.8h-3zM1756 1133.8h3v1.6h-3zM1760 1133.8h3v1.5h-3zM1765 1133.8h3v1.4h-3zM1769 1133.8h3v1.4h-3zM1773 1133.8h3v1.4h-3zM1778 1133.8h3v1.4h-3z" fill="#ffcdd2"/>
<path d="M7.9 1132.2L12.3 1131.9L16.6 1131.5L21 1131L25.4 1130.6L29.7 1130.5L34.1 1130.5L38.4 1130.6L42.8 1130.8L47.2 1131.1L51.5 1131.5L55.9 1132.1L60.3 1133.1L64.6 1134.2L69 1135.4L73.3 1137L77.7 1138.9L82.1 1140.9L86.4 1143.3L90.8 1145.7L95.2 1148.2L99.5 1150.5L103.9 1152.1L108.2 1153.5L112.6 1154.7L117 1155.6L121.3 1156.5L125.7 1157.1L130.1 1157.2L134.4 1157.2L138.8 1157.3L143.1 1157.5L147.5 1157.8L151.9 1157.9L156.2 1157.3L160.6 1155.7L165 1153.5L169.3 1151.6L173.7 1150.4L178 1149.7L182.4 1148.9L186.8 1147.9L191.1 1146.7L195.5 1145.4L199.9 1144.1L204.2 1143.2L208.6 1142.3L212.9 1141.5L217.3 1140.9L221.7 1140.4L226 1140.1L230.4 1140.1L234.8 1140.5L239.1 1141L243.5 1141.6L247.8 1141.9L252.2 1141.7L256.6 1141.3L260.9 1141L265.3 1140.8L269.7 1140.7L274 1140.8L278.4 1141.4L282.7 1142.4L287.1 1143.5L291.5 1144.7L295.8 1146L300.2 1147.3L304.6 1148.4L308.9 1149.5L313.3 1150.5L317.6 1151.1L322 1151.5L326.4 1151.3L330.7 1150.3L335.1 1149L339.5 1147.7L343.8 1146.5L348.2 1145.7L352.5 1145.1L356.9 1144.6L361.3 1144.1L365.6 1143.7L370 1143.3L374.4 1142.9L378.7 1142.8L383.1 1142.8L387.4 1142.7L391.8 1142.6L396.2 1142.3L400.5 1142L404.9 1141.5L409.3 1140.4L413.6 1138.8L418 1136.9L422.3 1134.9L426.7 1133.2L431.1 1132L435.4 1131.4L439.8 1131.6L444.2 1132.2L448.5 1132.6L452.9 1132.6L457.2 1132.3L461.6 1131.9L466 1131.7L470.3 1131.9L474.7 1132.3L479.1 1132.5L483.4 1132.5L487.8 1132.2L492.1 1131.9L496.5 1131.7L500.9 1131.4L505.2 1131.2L509.6 1130.9L514 1130.6L518.3 1129.9L522.7 1128.5L527 1126.8L531.4 1125.4L535.8 1124.4L540.1 1123.7L544.5 1123.2L548.9 1123.2L553.2 1123.3L557.6 1123.7L561.9 1124.4L566.3 1125.3L570.7 1126.1L575 1127.1L579.4 1128L583.8 1128.9L588.1 1129.7L592.5 1130.1L596.8 1130.4L601.2 1130.7L605.6 1131.2L609.9 1132L614.3 1132.9L618.7 1133.4L623 1133.2L627.4 1132.2L631.7 1130.7L636.1 1129L640.5 1127.7L644.8 1127.2L649.2 1127.6L653.6 1128.4L657.9 1129.3L662.3 1130.1L666.6 1130.8L671 1131.5L675.4 1131.9L679.7 1131.6L684.1 1130.9L688.5 1129.7L692.8 1127.6L697.2 1124.6L701.6 1121.1L705.9 1118.4L710.3 1117.2L714.6 1116.4L719 1115.8L723.4 1115.9L727.7 1116.7L732.1 1117.9L736.5 1119.2L740.8 1120.3L745.2 1121.1L749.5 1121.7L753.9 1122.3L758.3 1122.7L762.6 1123.1L767 1123.3L771.4 1123.3L775.7 1123.2L780.1 1123.2L784.4 1123.4L788.8 1123.9L793.2 1124.6L797.5 1125.8L801.9 1126.8L806.3 1127.4L810.6 1127.7L815 1127.9L819.3 1127.8L823.7 1127.6L828.1 1127.3L832.4 1126.7L836.8 1126L841.2 1125.6L845.5 1125.7L849.9 1126.1L854.2 1126.6L858.6 1127.5L863 1128.6L867.3 1129.6L871.7 1130.3L876.1 1130.9L880.4 1131.5L884.8 1132L889.1 1132.4L893.5 1132.9L897.9 1133.2L902.2 1133.3L906.6 1133.1L911 1132.8L915.3 1132.5L919.7 1132.4L924 1132.5L928.4 1132.7L932.8 1133L937.1 1133.7L941.5 1134.8L945.9 1136.1L950.2 1137.2L954.6 1138.2L958.9 1139.2L963.3 1139.8L967.7 1139.6L972 1138.7L976.4 1137.6L980.8 1136.5L985.1 1135.3L989.5 1134.2L993.8 1133.2L998.2 1132.2L1002.6 1131.4L1006.9 1131.2L1011.3 1131.5L1015.7 1132L1020 1132.4L1024.4 1132.7L1028.7 1132.8L1033.1 1132.7L1037.5 1132.4L1041.8 1132L1046.2 1131.9L1050.6 1131.9L1054.9 1132L1059.3 1132.1L1063.6 1132.2L1068 1132.2L1072.4 1132.2L1076.7 1132.2L1081.1 1132.2L1085.5 1132.3L1089.8 1132.4L1094.2 1132.5L1098.5 1132.7L1102.9 1132.9L1107.3 1133.2L1111.6 1133.6L1116 1133.9L1120.4 1134.3L1124.7 1134.8L1129.1 1135.3L1133.4 1135.7L1137.8 1136L1142.2 1136L1146.5 1136L1150.9 1136L1155.3 1135.9L1159.6 1135.7L1164 1135.4L1168.3 1135.2L1172.7 1135L1177.1 1135L1181.4 1135.2L1185.8 1135.4L1190.2 1135.7L1194.5 1135.9L1198.9 1136L1203.2 1136L1207.6 1136L1212 1136L1216.3 1136L1220.7 1136L1225.1 1136L1229.4 1136L1233.8 1136L1238.1 1136L1242.5 1136.1L1246.9 1136.3L1251.2 1136.9L1255.6 1137.5L1260 1138.1L1264.3 1138.6L1268.7 1138.9L1273 1139.1L1277.4 1139.1L1281.8 1139.2L1286.1 1139.2L1290.5 1139.2L1294.9 1139.2L1299.2 1139.2L1303.6 1139.2L1307.9 1139L1312.3 1138.5L1316.7 1138L1321 1137.7L1325.4 1137.5L1329.8 1137.4L1334.1 1137.2L1338.5 1136.9L1342.8 1136.6L1347.2 1136.3L1351.6 1136.2L1355.9 1136.3L1360.3 1136.6L1364.7 1137.1L1369 1137.6L1373.4 1137.9L1377.7 1138.1L1382.1 1138.3L1386.5 1138.4L1390.8 1138.2L1395.2 1137.6L1399.6 1136.9L1403.9 1136.4L1408.3 1136.1L1412.6 1135.7L1417 1135.5L1421.4 1135.4L1425.7 1135.3L1430.1 1135.5L1434.5 1136.1L1438.8 1137L1443.2 1137.7L1447.5 1138.3L1451.9 1138.8L1456.3 1139.4L1460.6 1140L1465 1140.6L1469.4 1141.1L1473.7 1141.5L1478.1 1141.9L1482.5 1142.3L1486.8 1142.7L1491.2 1143L1495.5 1143.4L1499.9 1143.7L1504.3 1143.9L1508.6 1143.8L1513 1143.3L1517.4 1142.7L1521.7 1142.3L1526.1 1142.1L1530.4 1142L1534.8 1141.9L1539.2 1142.1L1543.5 1142.6L1547.9 1143.2L1552.3 1143.9L1556.6 1144.6L1561 1145.3L1565.3 1146.1L1569.7 1146.9L1574.1 1147.8L1578.4 1148.8L1582.8 1149.9L1587.2 1150.9L1591.5 1152L1595.9 1153.2L1600.2 1154.1L1604.6 1154.4L1609 1153.8L1613.3 1152.4L1617.7 1150.8L1622.1 1149.2L1626.4 1147.8L1630.8 1146.8L1635.1 1146.1L1639.5 1145.4L1643.9 1144.8L1648.2 1143.6L1652.6 1141.6L1657 1139L1661.3 1136.4L1665.7 1134L1670 1131.8L1674.4 1129.6L1678.8 1127.6L1683.1 1126.1L1687.5 1125L1691.9 1124.5L1696.2 1124.5L1700.6 1124.9L1704.9 1125.4L1709.3 1126L1713.7 1126.7L1718 1127.4L1722.4 1128.2L1726.8 1129.1L1731.1 1129.9L1735.5 1130.6L1739.8 1131.1L1744.2 1131.4L1748.6 1131.5L1752.9 1131.7L1757.3 1131.9L1761.7 1132.1L1766 1132.3L1770.4 1132.5L1774.7 1132.7L1779.1 1132.9" stroke="#2196f3" stroke-width="1.1" fill="none" stroke-linejoin="round"/>
<path d="M7.9 1131.7L12.3 1131.7L16.6 1131.7L21 1131.5L25.4 1131.3L29.7 1131.2L34.1 1131L38.4 1130.9L42.8 1130.9L47.2 1130.9L51.5 1131.1L55.9 1131.3L60.3 1131.6L64.6 1132.1L69 1132.8L73.3 1133.6L77.7 1134.7L82.1 1135.9L86.4 1137.4L90.8 1139.1L95.2 1140.9L99.5 1142.8L103.9 1144.7L108.2 1146.4L112.6 1148.1L117 1149.6L121.3 1151L125.7 1152.2L130.1 1153.2L134.4 1154L138.8 1154.7L143.1 1155.2L147.5 1155.7L151.9 1156.2L156.2 1156.4L160.6 1156.2L165 1155.7L169.3 1154.9L173.7 1154L178 1153.1L182.4 1152.3L186.8 1151.4L191.1 1150.5L195.5 1149.4L199.9 1148.4L204.2 1147.3L208.6 1146.3L212.9 1145.4L217.3 1144.5L221.7 1143.7L226 1143L230.4 1142.4L234.8 1142L239.1 1141.8L243.5 1141.8L247.8 1141.8L252.2 1141.8L256.6 1141.7L260.9 1141.5L265.3 1141.4L269.7 1141.3L274 1141.2L278.4 1141.2L282.7 1141.4L287.1 1141.8L291.5 1142.4L295.8 1143.1L300.2 1144L304.6 1144.9L308.9 1145.8L313.3 1146.7L317.6 1147.6L322 1148.4L326.4 1149L330.7 1149.2L335.1 1149.2L339.5 1148.9L343.8 1148.4L348.2 1147.9L352.5 1147.3L356.9 1146.8L361.3 1146.2L365.6 1145.7L370 1145.2L374.4 1144.8L378.7 1144.4L383.1 1144L387.4 1143.8L391.8 1143.5L396.2 1143.3L400.5 1143.1L404.9 1142.7L409.3 1142.3L413.6 1141.6L418 1140.6L422.3 1139.5L426.7 1138.3L431.1 1137L435.4 1135.9L439.8 1135L444.2 1134.5L448.5 1134.1L452.9 1133.8L457.2 1133.5L461.6 1133.2L466 1132.9L470.3 1132.7L474.7 1132.6L479.1 1132.6L483.4 1132.6L487.8 1132.5L492.1 1132.4L496.5 1132.3L500.9 1132.1L505.2 1131.9L509.6 1131.7L514 1131.5L518.3 1131.2L522.7 1130.6L527 1129.9L531.4 1129L535.8 1128.1L540.1 1127.2L544.5 1126.4L548.9 1125.7L553.2 1125.3L557.6 1125L561.9 1124.8L566.3 1124.9L570.7 1125.2L575 1125.5L579.4 1126L583.8 1126.6L588.1 1127.2L592.5 1127.8L596.8 1128.3L601.2 1128.8L605.6 1129.3L609.9 1129.8L614.3 1130.4L618.7 1131L623 1131.5L627.4 1131.6L631.7 1131.4L636.1 1130.9L640.5 1130.3L644.8 1129.7L649.2 1129.2L653.6 1129.1L657.9 1129.1L662.3 1129.3L666.6 1129.6L671 1130L675.4 1130.4L679.7 1130.6L684.1 1130.7L688.5 1130.5L692.8 1129.9L697.2 1128.8L701.6 1127.3L705.9 1125.5L710.3 1123.8L714.6 1122.4L719 1121L723.4 1120L727.7 1119.4L732.1 1119.1L736.5 1119.1L740.8 1119.3L745.2 1119.7L749.5 1120.1L753.9 1120.5L758.3 1121L762.6 1121.4L767 1121.8L771.4 1122.1L775.7 1122.3L780.1 1122.5L784.4 1122.7L788.8 1122.9L793.2 1123.3L797.5 1123.8L801.9 1124.4L806.3 1125L810.6 1125.5L815 1126L819.3 1126.4L823.7 1126.6L828.1 1126.7L832.4 1126.7L836.8 1126.6L841.2 1126.4L845.5 1126.2L849.9 1126.2L854.2 1126.3L858.6 1126.5L863 1126.9L867.3 1127.5L871.7 1128L876.1 1128.6L880.4 1129.2L884.8 1129.7L889.1 1130.3L893.5 1130.8L897.9 1131.3L902.2 1131.7L906.6 1132L911 1132.1L915.3 1132.2L919.7 1132.2L924 1132.3L928.4 1132.4L932.8 1132.5L937.1 1132.7L941.5 1133.2L945.9 1133.7L950.2 1134.4L954.6 1135.2L958.9 1136L963.3 1136.8L967.7 1137.3L972 1137.6L976.4 1137.6L980.8 1137.4L985.1 1137L989.5 1136.4L993.8 1135.8L998.2 1135.1L1002.6 1134.3L1006.9 1133.7L1011.3 1133.3L1015.7 1133L1020 1132.9L1024.4 1132.8L1028.7 1132.8L1033.1 1132.8L1037.5 1132.7L1041.8 1132.6L1046.2 1132.4L1050.6 1132.3L1054.9 1132.3L1059.3 1132.2L1063.6 1132.2L1068 1132.2L1072.4 1132.2L1076.7 1132.2L1081.1 1132.2L1085.5 1132.2L1089.8 1132.3L1094.2 1132.3L1098.5 1132.4L1102.9 1132.5L1107.3 1132.7L1111.6 1132.8L1116 1133L1120.4 1133.3L1124.7 1133.6L1129.1 1133.9L1133.4 1134.3L1137.8 1134.6L1142.2 1134.9L1146.5 1135.1L1150.9 1135.3L1155.3 1135.4L1159.6 1135.5L1164 1135.5L1168.3 1135.4L1172.7 1135.3L1177.1 1135.2L1181.4 1135.2L1185.8 1135.3L1190.2 1135.4L1194.5 1135.5L1198.9 1135.6L1203.2 1135.7L1207.6 1135.7L1212 1135.8L1216.3 1135.8L1220.7 1135.9L1225.1 1135.9L1229.4 1135.9L1233.8 1135.9L1238.1 1135.9L1242.5 1136L1246.9 1136L1251.2 1136.2L1255.6 1136.5L1260 1136.8L1264.3 1137.1L1268.7 1137.5L1273 1137.8L1277.4 1138.1L1281.8 1138.3L1286.1 1138.5L1290.5 1138.6L1294.9 1138.8L1299.2 1138.9L1303.6 1138.9L1307.9 1139L1312.3 1138.9L1316.7 1138.7L1321 1138.5L1325.4 1138.3L1329.8 1138.1L1334.1 1137.9L1338.5 1137.7L1342.8 1137.5L1347.2 1137.3L1351.6 1137L1355.9 1136.9L1360.3 1136.8L1364.7 1136.9L1369 1137L1373.4 1137.2L1377.7 1137.4L1382.1 1137.6L1386.5 1137.7L1390.8 1137.8L1395.2 1137.8L1399.6 1137.6L1403.9 1137.4L1408.3 1137.1L1412.6 1136.8L1417 1136.6L1421.4 1136.3L1425.7 1136.1L1430.1 1136L1434.5 1136L1438.8 1136.2L1443.2 1136.5L1447.5 1136.9L1451.9 1137.3L1456.3 1137.7L1460.6 1138.2L1465 1138.7L1469.4 1139.2L1473.7 1139.6L1478.1 1140.1L1482.5 1140.5L1486.8 1140.9L1491.2 1141.4L1495.5 1141.8L1499.9 1142.1L1504.3 1142.5L1508.6 1142.8L1513 1142.9L1517.4 1142.8L1521.7 1142.7L1526.1 1142.6L1530.4 1142.5L1534.8 1142.4L1539.2 1142.3L1543.5 1142.4L1547.9 1142.5L1552.3 1142.8L1556.6 1143.2L1561 1143.6L1565.3 1144.1L1569.7 1144.7L1574.1 1145.3L1578.4 1146L1582.8 1146.8L1587.2 1147.6L1591.5 1148.5L1595.9 1149.4L1600.2 1150.4L1604.6 1151.2L1609 1151.7L1613.3 1151.8L1617.7 1151.6L1622.1 1151.1L1626.4 1150.5L1630.8 1149.8L1635.1 1149L1639.5 1148.3L1643.9 1147.6L1648.2 1146.8L1652.6 1145.8L1657 1144.4L1661.3 1142.8L1665.7 1141.1L1670 1139.2L1674.4 1137.3L1678.8 1135.3L1683.1 1133.5L1687.5 1131.8L1691.9 1130.3L1696.2 1129.2L1700.6 1128.3L1704.9 1127.7L1709.3 1127.4L1713.7 1127.2L1718 1127.3L1722.4 1127.5L1726.8 1127.8L1731.1 1128.2L1735.5 1128.7L1739.8 1129.2L1744.2 1129.6L1748.6 1130L1752.9 1130.3L1757.3 1130.6L1761.7 1130.9L1766 1131.2L1770.4 1131.5L1774.7 1131.7L1779.1 1132" stroke="#ff6d00" stroke-width="1.1" fill="none" stroke-linejoin="round"/>
</g>
<text x="1934.5" y="94.5" font-size="19" letter-spacing="0.2" fill="#131722">0,09000</text>
<text x="1934.5" y="181.5" font-size="19" letter-spacing="0.2" fill="#131722">0,08000</text>
<text x="1934.5" y="268.5" font-size="19" letter-spacing="0.2" fill="#131722">0,07000</text>
<text x="1934.5" y="355.5" font-size="19" letter-spacing="0.2" fill="#131722">0,06000</text>
<text x="1934.5" y="442.5" font-size="19" letter-spacing="0.2" fill="#131722">0,05000</text>
<text x="1934.5" y="530.5" font-size="19" letter-spacing="0.2" fill="#131722">0,04000</text>
<text x="1934.5" y="617.5" font-size="19" letter-spacing="0.2" fill="#131722">0,03000</text>
<text x="1934.5" y="704.5" font-size="19" letter-spacing="0.2" fill="#131722">0,02000</text>
<text x="1934.5" y="791.5" font-size="19" letter-spacing="0.2" fill="#131722">0,01000</text>
<text x="1934.5" y="834.5" font-size="19" letter-spacing="0.2" fill="#131722">75,00</text>
<text x="1934.5" y="887" font-size="19" letter-spacing="0.2" fill="#131722">50,00</text>
<text x="1934.5" y="938.5" font-size="19" letter-spacing="0.2" fill="#131722">25,00</text>
<text x="1934.5" y="965" font-size="19" letter-spacing="0.2" fill="#131722">100,00</text>
<text x="1934.5" y="1028.5" font-size="19" letter-spacing="0.2" fill="#131722">0,00</text>
<text x="1934.5" y="1077" font-size="19" letter-spacing="0.2" fill="#131722">0,00000</text>
<text x="1934.5" y="1139" font-size="19" letter-spacing="0.2" fill="#131722">0,00000</text>
<rect x="1925.5" y="31.5" width="119" height="25" rx="4" fill="#fff" stroke="#e6e8ee" stroke-width="1"/>
<text x="1934" y="49" font-size="12.7" fill="#131722" textLength="20.5" lengthAdjust="spacingAndGlyphs">BTC</text>
<rect x="1922" y="90" width="90.5" height="29" rx="2" fill="#f23645"/>
<text x="1934.5" y="110" font-size="19" letter-spacing="0.25" font-weight="bold" fill="#fff">0,08837</text>
<rect x="1836.5" y="573" width="176.5" height="29" rx="3" fill="#26a69a"/>
<path d="M1921.5 573V602" stroke="#5cbdb3" stroke-width="1"/>
<text x="1843.5" y="594.5" font-size="18" fill="#fff" stroke="#fff" stroke-width="0.35" textLength="69" lengthAdjust="spacingAndGlyphs">ETHBTC</text>
<text x="1934.5" y="593.5" font-size="19" letter-spacing="0.25" font-weight="bold" fill="#fff">0,03293</text>
<text x="173.7" y="1191.5" text-anchor="middle" font-size="20" font-weight="bold" fill="#131722">2019</text>
<text x="400.5" y="1191.5" text-anchor="middle" font-size="20" font-weight="bold" fill="#131722">2020</text>
<text x="627.4" y="1191.5" text-anchor="middle" font-size="20" font-weight="bold" fill="#131722">2021</text>
<text x="854.2" y="1191.5" text-anchor="middle" font-size="20" font-weight="bold" fill="#131722">2022</text>
<text x="1081.1" y="1191.5" text-anchor="middle" font-size="20" font-weight="bold" fill="#131722">2023</text>
<text x="1307.9" y="1191.5" text-anchor="middle" font-size="20" font-weight="bold" fill="#131722">2024</text>
<text x="1539.2" y="1191.5" text-anchor="middle" font-size="20" font-weight="bold" fill="#131722">2025</text>
<text x="1766" y="1191.5" text-anchor="middle" font-size="20" font-weight="bold" fill="#131722">2026</text>
<text x="55.9" y="1191.5" text-anchor="middle" font-size="20" letter-spacing="0.7" fill="#131722">Juill</text>
<text x="282.7" y="1191.5" text-anchor="middle" font-size="20" letter-spacing="0.7" fill="#131722">Juill</text>
<text x="514" y="1191.5" text-anchor="middle" font-size="20" letter-spacing="0.7" fill="#131722">Juill</text>
<text x="740.8" y="1191.5" text-anchor="middle" font-size="20" letter-spacing="0.7" fill="#131722">Juill</text>
<text x="967.7" y="1191.5" text-anchor="middle" font-size="20" letter-spacing="0.7" fill="#131722">Juill</text>
<text x="1194.5" y="1191.5" text-anchor="middle" font-size="20" letter-spacing="0.7" fill="#131722">Juill</text>
<text x="1421.4" y="1191.5" text-anchor="middle" font-size="20" letter-spacing="0.7" fill="#131722">Juill</text>
<text x="1652.6" y="1191.5" text-anchor="middle" font-size="20" letter-spacing="0.7" fill="#131722">Juill</text>
<text x="1879.4" y="1191.5" text-anchor="middle" font-size="20" letter-spacing="0.7" fill="#131722">Juill</text>
<text x="10" y="19" font-size="13" fill="#e6e6e6" textLength="377" lengthAdjust="spacingAndGlyphs">VincentGanne créé avec TradingView.com, Janv 26, 2026 10:26 UTC+1</text>
<text x="17.5" y="46" font-size="12.5" fill="#131722" textLength="185" lengthAdjust="spacingAndGlyphs">Ethereum / Bitcoin · 1W · Binance</text>
<text x="210" y="46" font-size="12.5" fill="#131722" textLength="8.1" lengthAdjust="spacingAndGlyphs">O</text>
<text x="217.5" y="46" font-size="12.5" fill="#26a69a" textLength="43" lengthAdjust="spacingAndGlyphs">0,03250</text>
<text x="267.5" y="46" font-size="12.5" fill="#131722" textLength="7.8" lengthAdjust="spacingAndGlyphs">H</text>
<text x="274.7" y="46" font-size="12.5" fill="#26a69a" textLength="43" lengthAdjust="spacingAndGlyphs">0,03320</text>
<text x="325.2" y="46" font-size="12.5" fill="#131722" textLength="6.9" lengthAdjust="spacingAndGlyphs">B</text>
<text x="331.5" y="46" font-size="12.5" fill="#26a69a" textLength="42.5" lengthAdjust="spacingAndGlyphs">0,03244</text>
<text x="381.3" y="46" font-size="12.5" fill="#131722" textLength="7.3" lengthAdjust="spacingAndGlyphs">C</text>
<text x="388" y="46" font-size="12.5" fill="#26a69a" textLength="42" lengthAdjust="spacingAndGlyphs">0,03293</text>
<text x="437.5" y="46" font-size="12.5" fill="#26a69a" textLength="98" lengthAdjust="spacingAndGlyphs">+0,00042 (+1,29%)</text>
<path d="M12 1230h11.8v15h-5.9v-8.8H12zM34.3 1230h7.4l-5.1 15h-7.1z" fill="#dedede"/><circle cx="29.05" cy="1233.1" r="3.05" fill="#dedede"/>
<text x="49" y="1245" font-size="20" font-weight="bold" fill="#dedede" textLength="121" lengthAdjust="spacingAndGlyphs">TradingView</text>
</svg>
</body></html>
